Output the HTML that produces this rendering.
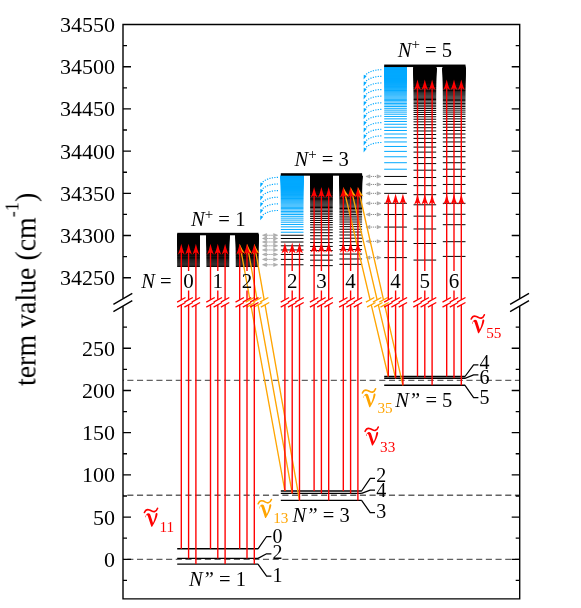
<!DOCTYPE html>
<html><head><meta charset="utf-8"><title>term value diagram</title>
<style>html,body{margin:0;padding:0;background:#fff}svg{display:block}text{font-family:"Liberation Serif",serif}</style>
</head><body>
<svg width="581" height="608" viewBox="0 0 581 608">
<rect width="581" height="608" fill="#fff"/>
<g opacity="0.999">
<path d="M123 559.4H519.7" stroke="#626262" stroke-width="1.35" stroke-dasharray="6.1 3.59" stroke-dashoffset="5.39" fill="none"/>
<path d="M123 495.24H519.7" stroke="#626262" stroke-width="1.35" stroke-dasharray="6.1 3.59" stroke-dashoffset="5.39" fill="none"/>
<path d="M123 380.43H519.7" stroke="#626262" stroke-width="1.35" stroke-dasharray="6.1 3.59" stroke-dashoffset="5.39" fill="none"/>
<path d="M177.2 266.45H199.9M177.2 265.24H199.9M177.2 264.1H199.9M177.2 263.01H199.9M177.2 261.99H199.9M177.2 261.01H199.9M177.2 260.09H199.9M177.2 259.21H199.9M177.2 258.37H199.9M177.2 257.58H199.9M177.2 256.82H199.9M177.2 256.1H199.9M177.2 255.41H199.9M177.2 254.75H199.9M177.2 254.12H199.9M177.2 253.52H199.9M177.2 252.94H199.9M177.2 252.39H199.9M177.2 251.86H199.9M177.2 251.35H199.9M177.2 250.87H199.9M177.2 250.4H199.9M177.2 249.95H199.9M177.2 249.52H199.9M177.2 249.11H199.9M177.2 248.71H199.9M177.2 248.33H199.9M177.2 247.96H199.9M177.2 247.61H199.9M177.2 247.26H199.9M177.2 246.93H199.9M177.2 246.62H199.9M177.2 246.31H199.9M177.2 246.01H199.9M177.2 245.73H199.9M177.2 245.45H199.9M177.2 245.18H199.9M177.2 244.93H199.9M177.2 244.68H199.9M177.2 244.43H199.9M177.2 244.2H199.9M177.2 243.97H199.9M177.2 243.75H199.9M177.2 243.54H199.9M177.2 243.34H199.9M177.2 243.14H199.9M177.2 242.94H199.9M177.2 242.75H199.9M177.2 242.57H199.9M177.2 242.4H199.9M177.2 242.22H199.9M177.2 242.06H199.9M177.2 241.89H199.9M177.2 241.74H199.9M177.2 241.58H199.9M177.2 241.43H199.9M177.2 241.29H199.9M177.2 241.15H199.9M177.2 241.01H199.9M177.2 240.88H199.9M177.2 240.75H199.9M177.2 240.62H199.9M177.2 240.5H199.9M177.2 240.38H199.9M177.2 240.26H199.9M177.2 240.15H199.9M177.2 240.04H199.9M177.2 239.93H199.9M177.2 239.82H199.9M177.2 239.72H199.9M177.2 239.62H199.9M177.2 239.52H199.9M177.2 239.42H199.9M177.2 239.33H199.9M177.2 239.24H199.9M177.2 239.15H199.9M177.2 239.06H199.9M177.2 238.98H199.9M177.2 238.89H199.9M177.2 238.81H199.9M177.2 238.73H199.9M177.2 238.65H199.9M177.2 238.58H199.9M177.2 238.5H199.9M177.2 238.43H199.9M177.2 238.36H199.9M177.2 238.29H199.9M177.2 238.22H199.9M177.2 238.16H199.9M177.2 238.09H199.9M177.2 238.03H199.9M177.2 237.96H199.9M177.2 237.9H199.9M177.2 237.84H199.9M177.2 237.78H199.9M177.2 237.73H199.9M177.2 237.67H199.9M177.2 237.61H199.9M177.2 237.56H199.9M177.2 237.51H199.9M177.2 237.45H199.9M177.2 237.4H199.9M177.2 237.35H199.9M177.2 237.3H199.9M177.2 237.25H199.9M177.2 237.21H199.9M177.2 237.16H199.9M177.2 237.12H199.9M177.2 237.07H199.9M177.2 237.03H199.9M177.2 236.98H199.9M177.2 236.94H199.9M177.2 236.9H199.9M177.2 236.86H199.9M177.2 236.82H199.9M177.2 236.78H199.9M177.2 236.74H199.9M177.2 236.7H199.9M177.2 236.67H199.9M177.2 236.63H199.9M177.2 236.59H199.9M177.2 236.56H199.9M177.2 236.52H199.9M177.2 236.49H199.9M177.2 236.45H199.9M177.2 236.42H199.9M177.2 236.39H199.9M177.2 236.36H199.9M177.2 236.33H199.9M177.2 236.29H199.9M177.2 236.26H199.9M177.2 236.23H199.9M177.2 236.2H199.9M177.2 236.18H199.9M177.2 236.15H199.9M177.2 236.12H199.9M177.2 236.09H199.9M177.2 236.06H199.9M177.2 236.04H199.9M177.2 236.01H199.9M177.2 235.98H199.9M177.2 235.96H199.9M177.2 235.93H199.9M177.2 235.91H199.9M177.2 235.88H199.9M177.2 235.86H199.9M177.2 235.84H199.9M177.2 235.81H199.9M177.2 235.79H199.9M177.2 235.77H199.9M177.2 235.75H199.9M177.2 235.72H199.9M177.2 235.7H199.9M177.2 235.68H199.9M177.2 235.66H199.9M177.2 235.64H199.9M177.2 235.62H199.9M177.2 235.6H199.9M177.2 235.58H199.9M177.2 235.56H199.9M177.2 235.54H199.9M177.2 235.52H199.9M177.2 235.5H199.9M177.2 235.48H199.9M177.2 235.47H199.9M177.2 235.45H199.9M177.2 235.43H199.9M177.2 235.41H199.9M177.2 235.39H199.9M177.2 235.38H199.9M177.2 235.36H199.9M177.2 235.34H199.9M177.2 235.33H199.9M177.2 235.31H199.9M177.2 235.3H199.9M177.2 235.28H199.9M177.2 235.26H199.9M177.2 235.25H199.9" stroke="#000" stroke-width="1" fill="none"/>
<rect x="177.2" y="252" width="22.7" height="14.75" fill="#000" opacity="0.4"/>
<rect x="177.2" y="234.05" width="22.7" height="2.05" fill="#000"/>
<path d="M206.5 266.45H229.2M206.5 265.24H229.2M206.5 264.1H229.2M206.5 263.01H229.2M206.5 261.99H229.2M206.5 261.01H229.2M206.5 260.09H229.2M206.5 259.21H229.2M206.5 258.37H229.2M206.5 257.58H229.2M206.5 256.82H229.2M206.5 256.1H229.2M206.5 255.41H229.2M206.5 254.75H229.2M206.5 254.12H229.2M206.5 253.52H229.2M206.5 252.94H229.2M206.5 252.39H229.2M206.5 251.86H229.2M206.5 251.35H229.2M206.5 250.87H229.2M206.5 250.4H229.2M206.5 249.95H229.2M206.5 249.52H229.2M206.5 249.11H229.2M206.5 248.71H229.2M206.5 248.33H229.2M206.5 247.96H229.2M206.5 247.61H229.2M206.5 247.26H229.2M206.5 246.93H229.2M206.5 246.62H229.2M206.5 246.31H229.2M206.5 246.01H229.2M206.5 245.73H229.2M206.5 245.45H229.2M206.5 245.18H229.2M206.5 244.93H229.2M206.5 244.68H229.2M206.5 244.43H229.2M206.5 244.2H229.2M206.5 243.97H229.2M206.5 243.75H229.2M206.5 243.54H229.2M206.5 243.34H229.2M206.5 243.14H229.2M206.5 242.94H229.2M206.5 242.75H229.2M206.5 242.57H229.2M206.5 242.4H229.2M206.5 242.22H229.2M206.5 242.06H229.2M206.5 241.89H229.2M206.5 241.74H229.2M206.5 241.58H229.2M206.5 241.43H229.2M206.5 241.29H229.2M206.5 241.15H229.2M206.5 241.01H229.2M206.5 240.88H229.2M206.5 240.75H229.2M206.5 240.62H229.2M206.5 240.5H229.2M206.5 240.38H229.2M206.5 240.26H229.2M206.5 240.15H229.2M206.5 240.04H229.2M206.5 239.93H229.2M206.5 239.82H229.2M206.5 239.72H229.2M206.5 239.62H229.2M206.5 239.52H229.2M206.5 239.42H229.2M206.5 239.33H229.2M206.5 239.24H229.2M206.5 239.15H229.2M206.5 239.06H229.2M206.5 238.98H229.2M206.5 238.89H229.2M206.5 238.81H229.2M206.5 238.73H229.2M206.5 238.65H229.2M206.5 238.58H229.2M206.5 238.5H229.2M206.5 238.43H229.2M206.5 238.36H229.2M206.5 238.29H229.2M206.5 238.22H229.2M206.5 238.16H229.2M206.5 238.09H229.2M206.5 238.03H229.2M206.5 237.96H229.2M206.5 237.9H229.2M206.5 237.84H229.2M206.5 237.78H229.2M206.5 237.73H229.2M206.5 237.67H229.2M206.5 237.61H229.2M206.5 237.56H229.2M206.5 237.51H229.2M206.5 237.45H229.2M206.5 237.4H229.2M206.5 237.35H229.2M206.5 237.3H229.2M206.5 237.25H229.2M206.5 237.21H229.2M206.5 237.16H229.2M206.5 237.12H229.2M206.5 237.07H229.2M206.5 237.03H229.2M206.5 236.98H229.2M206.5 236.94H229.2M206.5 236.9H229.2M206.5 236.86H229.2M206.5 236.82H229.2M206.5 236.78H229.2M206.5 236.74H229.2M206.5 236.7H229.2M206.5 236.67H229.2M206.5 236.63H229.2M206.5 236.59H229.2M206.5 236.56H229.2M206.5 236.52H229.2M206.5 236.49H229.2M206.5 236.45H229.2M206.5 236.42H229.2M206.5 236.39H229.2M206.5 236.36H229.2M206.5 236.33H229.2M206.5 236.29H229.2M206.5 236.26H229.2M206.5 236.23H229.2M206.5 236.2H229.2M206.5 236.18H229.2M206.5 236.15H229.2M206.5 236.12H229.2M206.5 236.09H229.2M206.5 236.06H229.2M206.5 236.04H229.2M206.5 236.01H229.2M206.5 235.98H229.2M206.5 235.96H229.2M206.5 235.93H229.2M206.5 235.91H229.2M206.5 235.88H229.2M206.5 235.86H229.2M206.5 235.84H229.2M206.5 235.81H229.2M206.5 235.79H229.2M206.5 235.77H229.2M206.5 235.75H229.2M206.5 235.72H229.2M206.5 235.7H229.2M206.5 235.68H229.2M206.5 235.66H229.2M206.5 235.64H229.2M206.5 235.62H229.2M206.5 235.6H229.2M206.5 235.58H229.2M206.5 235.56H229.2M206.5 235.54H229.2M206.5 235.52H229.2M206.5 235.5H229.2M206.5 235.48H229.2M206.5 235.47H229.2M206.5 235.45H229.2M206.5 235.43H229.2M206.5 235.41H229.2M206.5 235.39H229.2M206.5 235.38H229.2M206.5 235.36H229.2M206.5 235.34H229.2M206.5 235.33H229.2M206.5 235.31H229.2M206.5 235.3H229.2M206.5 235.28H229.2M206.5 235.26H229.2M206.5 235.25H229.2" stroke="#000" stroke-width="1" fill="none"/>
<rect x="206.5" y="252" width="22.7" height="14.75" fill="#000" opacity="0.4"/>
<rect x="206.5" y="234.05" width="22.7" height="2.05" fill="#000"/>
<path d="M235.8 266.45H258.5M235.8 265.24H258.5M235.8 264.1H258.5M235.8 263.01H258.5M235.8 261.99H258.5M235.8 261.01H258.5M235.8 260.09H258.5M235.8 259.21H258.5M235.8 258.37H258.5M235.8 257.58H258.5M235.8 256.82H258.5M235.8 256.1H258.5M235.8 255.41H258.5M235.8 254.75H258.5M235.8 254.12H258.5M235.8 253.52H258.5M235.8 252.94H258.5M235.8 252.39H258.5M235.8 251.86H258.5M235.8 251.35H258.5M235.8 250.87H258.5M235.8 250.4H258.5M235.8 249.95H258.5M235.8 249.52H258.5M235.8 249.11H258.5M235.8 248.71H258.5M235.8 248.33H258.5M235.8 247.96H258.5M235.8 247.61H258.5M235.8 247.26H258.5M235.8 246.93H258.5M235.8 246.62H258.5M235.8 246.31H258.5M235.8 246.01H258.5M235.8 245.73H258.5M235.8 245.45H258.5M235.8 245.18H258.5M235.8 244.93H258.5M235.8 244.68H258.5M235.8 244.43H258.5M235.8 244.2H258.5M235.8 243.97H258.5M235.8 243.75H258.5M235.8 243.54H258.5M235.8 243.34H258.5M235.8 243.14H258.5M235.8 242.94H258.5M235.8 242.75H258.5M235.8 242.57H258.5M235.8 242.4H258.5M235.8 242.22H258.5M235.8 242.06H258.5M235.8 241.89H258.5M235.8 241.74H258.5M235.8 241.58H258.5M235.8 241.43H258.5M235.8 241.29H258.5M235.8 241.15H258.5M235.8 241.01H258.5M235.8 240.88H258.5M235.8 240.75H258.5M235.8 240.62H258.5M235.8 240.5H258.5M235.8 240.38H258.5M235.8 240.26H258.5M235.8 240.15H258.5M235.8 240.04H258.5M235.8 239.93H258.5M235.8 239.82H258.5M235.8 239.72H258.5M235.8 239.62H258.5M235.8 239.52H258.5M235.8 239.42H258.5M235.8 239.33H258.5M235.8 239.24H258.5M235.8 239.15H258.5M235.8 239.06H258.5M235.8 238.98H258.5M235.8 238.89H258.5M235.8 238.81H258.5M235.8 238.73H258.5M235.8 238.65H258.5M235.8 238.58H258.5M235.8 238.5H258.5M235.8 238.43H258.5M235.8 238.36H258.5M235.8 238.29H258.5M235.8 238.22H258.5M235.8 238.16H258.5M235.8 238.09H258.5M235.8 238.03H258.5M235.8 237.96H258.5M235.8 237.9H258.5M235.8 237.84H258.5M235.8 237.78H258.5M235.8 237.73H258.5M235.8 237.67H258.5M235.8 237.61H258.5M235.8 237.56H258.5M235.8 237.51H258.5M235.8 237.45H258.5M235.8 237.4H258.5M235.8 237.35H258.5M235.8 237.3H258.5M235.8 237.25H258.5M235.8 237.21H258.5M235.8 237.16H258.5M235.8 237.12H258.5M235.8 237.07H258.5M235.8 237.03H258.5M235.8 236.98H258.5M235.8 236.94H258.5M235.8 236.9H258.5M235.8 236.86H258.5M235.8 236.82H258.5M235.8 236.78H258.5M235.8 236.74H258.5M235.8 236.7H258.5M235.8 236.67H258.5M235.8 236.63H258.5M235.8 236.59H258.5M235.8 236.56H258.5M235.8 236.52H258.5M235.8 236.49H258.5M235.8 236.45H258.5M235.8 236.42H258.5M235.8 236.39H258.5M235.8 236.36H258.5M235.8 236.33H258.5M235.8 236.29H258.5M235.8 236.26H258.5M235.8 236.23H258.5M235.8 236.2H258.5M235.8 236.18H258.5M235.8 236.15H258.5M235.8 236.12H258.5M235.8 236.09H258.5M235.8 236.06H258.5M235.8 236.04H258.5M235.8 236.01H258.5M235.8 235.98H258.5M235.8 235.96H258.5M235.8 235.93H258.5M235.8 235.91H258.5M235.8 235.88H258.5M235.8 235.86H258.5M235.8 235.84H258.5M235.8 235.81H258.5M235.8 235.79H258.5M235.8 235.77H258.5M235.8 235.75H258.5M235.8 235.72H258.5M235.8 235.7H258.5M235.8 235.68H258.5M235.8 235.66H258.5M235.8 235.64H258.5M235.8 235.62H258.5M235.8 235.6H258.5M235.8 235.58H258.5M235.8 235.56H258.5M235.8 235.54H258.5M235.8 235.52H258.5M235.8 235.5H258.5M235.8 235.48H258.5M235.8 235.47H258.5M235.8 235.45H258.5M235.8 235.43H258.5M235.8 235.41H258.5M235.8 235.39H258.5M235.8 235.38H258.5M235.8 235.36H258.5M235.8 235.34H258.5M235.8 235.33H258.5M235.8 235.31H258.5M235.8 235.3H258.5M235.8 235.28H258.5M235.8 235.26H258.5M235.8 235.25H258.5" stroke="#000" stroke-width="1" fill="none"/>
<rect x="235.8" y="252" width="22.7" height="14.75" fill="#000" opacity="0.4"/>
<rect x="235.8" y="234.05" width="22.7" height="2.05" fill="#000"/>
<path d="M280.8 264.78H303.5M280.8 259.39H303.5M280.8 254.46H303.5M280.8 249.95H303.5M280.8 245.81H303.5M280.8 242H303.5M280.8 238.49H303.5M280.8 235.25H303.5" stroke="#000" stroke-width="1.0" fill="none"/>
<path d="M280.8 232.24H303.5M280.8 229.46H303.5M280.8 226.87H303.5M280.8 224.45H303.5M280.8 222.2H303.5M280.8 220.1H303.5M280.8 218.14H303.5M280.8 216.3H303.5M280.8 214.57H303.5M280.8 212.95H303.5M280.8 211.42H303.5M280.8 209.98H303.5M280.8 208.63H303.5M280.8 207.35H303.5M280.8 206.14H303.5M280.8 205H303.5M280.8 203.91H303.5M280.8 202.89H303.5M280.8 201.91H303.5M280.8 200.99H303.5M280.8 200.11H303.5M280.8 199.27H303.5M280.8 198.48H303.5M280.8 197.72H303.5M280.8 197H303.5M280.8 196.31H303.5M280.8 195.65H303.5M280.8 195.02H303.5M280.8 194.42H303.5M280.8 193.84H303.5M280.8 193.29H303.5M280.8 192.76H303.5M280.8 192.25H303.5M280.8 191.77H303.5M280.8 191.3H303.5M280.8 190.85H303.5M280.8 190.42H303.5M280.8 190.01H303.5M280.8 189.61H303.5M280.8 189.23H303.5M280.8 188.86H303.5M280.8 188.51H303.5M280.8 188.16H303.5M280.8 187.83H303.5M280.8 187.52H303.5M280.8 187.21H303.5M280.8 186.91H303.5M280.8 186.63H303.5M280.8 186.35H303.5M280.8 186.08H303.5M280.8 185.83H303.5M280.8 185.58H303.5M280.8 185.33H303.5M280.8 185.1H303.5M280.8 184.87H303.5M280.8 184.65H303.5M280.8 184.44H303.5M280.8 184.24H303.5M280.8 184.04H303.5M280.8 183.84H303.5M280.8 183.66H303.5M280.8 183.47H303.5M280.8 183.3H303.5M280.8 183.12H303.5M280.8 182.96H303.5M280.8 182.79H303.5M280.8 182.64H303.5M280.8 182.48H303.5M280.8 182.33H303.5M280.8 182.19H303.5M280.8 182.05H303.5M280.8 181.91H303.5M280.8 181.78H303.5M280.8 181.65H303.5M280.8 181.52H303.5M280.8 181.4H303.5M280.8 181.28H303.5M280.8 181.16H303.5M280.8 181.05H303.5M280.8 180.94H303.5M280.8 180.83H303.5M280.8 180.72H303.5M280.8 180.62H303.5M280.8 180.52H303.5M280.8 180.42H303.5M280.8 180.32H303.5M280.8 180.23H303.5M280.8 180.14H303.5M280.8 180.05H303.5M280.8 179.96H303.5M280.8 179.88H303.5M280.8 179.79H303.5M280.8 179.71H303.5M280.8 179.63H303.5M280.8 179.55H303.5M280.8 179.48H303.5M280.8 179.4H303.5M280.8 179.33H303.5M280.8 179.26H303.5M280.8 179.19H303.5M280.8 179.12H303.5M280.8 179.06H303.5M280.8 178.99H303.5M280.8 178.93H303.5M280.8 178.86H303.5M280.8 178.8H303.5M280.8 178.74H303.5M280.8 178.68H303.5M280.8 178.63H303.5M280.8 178.57H303.5M280.8 178.51H303.5M280.8 178.46H303.5M280.8 178.41H303.5M280.8 178.35H303.5M280.8 178.3H303.5M280.8 178.25H303.5M280.8 178.2H303.5M280.8 178.15H303.5M280.8 178.11H303.5M280.8 178.06H303.5M280.8 178.02H303.5M280.8 177.97H303.5M280.8 177.93H303.5M280.8 177.88H303.5M280.8 177.84H303.5M280.8 177.8H303.5M280.8 177.76H303.5M280.8 177.72H303.5M280.8 177.68H303.5M280.8 177.64H303.5M280.8 177.6H303.5M280.8 177.57H303.5M280.8 177.53H303.5M280.8 177.49H303.5M280.8 177.46H303.5M280.8 177.42H303.5M280.8 177.39H303.5M280.8 177.35H303.5M280.8 177.32H303.5M280.8 177.29H303.5M280.8 177.26H303.5M280.8 177.23H303.5M280.8 177.19H303.5M280.8 177.16H303.5M280.8 177.13H303.5M280.8 177.1H303.5M280.8 177.08H303.5M280.8 177.05H303.5M280.8 177.02H303.5M280.8 176.99H303.5M280.8 176.96H303.5M280.8 176.94H303.5M280.8 176.91H303.5M280.8 176.88H303.5M280.8 176.86H303.5M280.8 176.83H303.5M280.8 176.81H303.5M280.8 176.78H303.5M280.8 176.76H303.5M280.8 176.74H303.5M280.8 176.71H303.5M280.8 176.69H303.5M280.8 176.67H303.5M280.8 176.65H303.5M280.8 176.62H303.5M280.8 176.6H303.5M280.8 176.58H303.5M280.8 176.56H303.5M280.8 176.54H303.5M280.8 176.52H303.5M280.8 176.5H303.5M280.8 176.48H303.5M280.8 176.46H303.5M280.8 176.44H303.5M280.8 176.42H303.5M280.8 176.4H303.5M280.8 176.38H303.5M280.8 176.37H303.5M280.8 176.35H303.5M280.8 176.33H303.5M280.8 176.31H303.5M280.8 176.29H303.5M280.8 176.28H303.5M280.8 176.26H303.5M280.8 176.24H303.5M280.8 176.23H303.5M280.8 176.21H303.5M280.8 176.2H303.5M280.8 176.18H303.5M280.8 176.16H303.5M280.8 176.15H303.5" stroke="#00a9ff" stroke-width="1.0" fill="none"/>
<rect x="280.8" y="174.45" width="22.7" height="2.05" fill="#00a9ff"/>
<path d="M310.1 265.63H332.8M310.1 260.16H332.8M310.1 255.17H332.8M310.1 250.6H332.8M310.1 246.41H332.8M310.1 242.56H332.8M310.1 239H332.8M310.1 235.72H332.8M310.1 232.68H332.8M310.1 229.86H332.8M310.1 227.24H332.8M310.1 224.81H332.8M310.1 222.53H332.8M310.1 220.41H332.8M310.1 218.42H332.8M310.1 216.57H332.8M310.1 214.82H332.8M310.1 213.18H332.8M310.1 211.64H332.8M310.1 210.19H332.8M310.1 208.83H332.8M310.1 207.53H332.8M310.1 206.32H332.8M310.1 205.16H332.8M310.1 204.07H332.8M310.1 203.04H332.8M310.1 202.05H332.8M310.1 201.12H332.8M310.1 200.24H332.8M310.1 199.4H332.8M310.1 198.59H332.8M310.1 197.83H332.8M310.1 197.1H332.8M310.1 196.41H332.8M310.1 195.74H332.8M310.1 195.11H332.8M310.1 194.5H332.8M310.1 193.92H332.8M310.1 193.37H332.8M310.1 192.84H332.8M310.1 192.33H332.8M310.1 191.84H332.8M310.1 191.37H332.8M310.1 190.92H332.8M310.1 190.49H332.8M310.1 190.07H332.8M310.1 189.67H332.8M310.1 189.29H332.8M310.1 188.92H332.8M310.1 188.56H332.8M310.1 188.21H332.8M310.1 187.88H332.8M310.1 187.56H332.8M310.1 187.26H332.8M310.1 186.96H332.8M310.1 186.67H332.8M310.1 186.39H332.8M310.1 186.12H332.8M310.1 185.86H332.8M310.1 185.61H332.8M310.1 185.37H332.8M310.1 185.14H332.8M310.1 184.91H332.8M310.1 184.69H332.8M310.1 184.47H332.8M310.1 184.27H332.8M310.1 184.07H332.8M310.1 183.87H332.8M310.1 183.68H332.8M310.1 183.5H332.8M310.1 183.32H332.8M310.1 183.15H332.8M310.1 182.98H332.8M310.1 182.82H332.8M310.1 182.66H332.8M310.1 182.51H332.8M310.1 182.36H332.8M310.1 182.21H332.8M310.1 182.07H332.8M310.1 181.93H332.8M310.1 181.8H332.8M310.1 181.67H332.8M310.1 181.54H332.8M310.1 181.42H332.8M310.1 181.3H332.8M310.1 181.18H332.8M310.1 181.06H332.8M310.1 180.95H332.8M310.1 180.84H332.8M310.1 180.74H332.8M310.1 180.63H332.8M310.1 180.53H332.8M310.1 180.43H332.8M310.1 180.34H332.8M310.1 180.24H332.8M310.1 180.15H332.8M310.1 180.06H332.8M310.1 179.97H332.8M310.1 179.89H332.8M310.1 179.81H332.8M310.1 179.72H332.8M310.1 179.64H332.8M310.1 179.57H332.8M310.1 179.49H332.8M310.1 179.41H332.8M310.1 179.34H332.8M310.1 179.27H332.8M310.1 179.2H332.8M310.1 179.13H332.8M310.1 179.07H332.8M310.1 179H332.8M310.1 178.94H332.8M310.1 178.87H332.8M310.1 178.81H332.8M310.1 178.75H332.8M310.1 178.69H332.8M310.1 178.63H332.8M310.1 178.58H332.8M310.1 178.52H332.8M310.1 178.47H332.8M310.1 178.41H332.8M310.1 178.36H332.8M310.1 178.31H332.8M310.1 178.26H332.8M310.1 178.21H332.8M310.1 178.16H332.8M310.1 178.11H332.8M310.1 178.07H332.8M310.1 178.02H332.8M310.1 177.98H332.8M310.1 177.93H332.8M310.1 177.89H332.8M310.1 177.85H332.8M310.1 177.81H332.8M310.1 177.76H332.8M310.1 177.72H332.8M310.1 177.68H332.8M310.1 177.65H332.8M310.1 177.61H332.8M310.1 177.57H332.8M310.1 177.53H332.8M310.1 177.5H332.8M310.1 177.46H332.8M310.1 177.43H332.8M310.1 177.39H332.8M310.1 177.36H332.8M310.1 177.33H332.8M310.1 177.29H332.8M310.1 177.26H332.8M310.1 177.23H332.8M310.1 177.2H332.8M310.1 177.17H332.8M310.1 177.14H332.8M310.1 177.11H332.8M310.1 177.08H332.8M310.1 177.05H332.8M310.1 177.02H332.8M310.1 177H332.8M310.1 176.97H332.8M310.1 176.94H332.8M310.1 176.91H332.8M310.1 176.89H332.8M310.1 176.86H332.8M310.1 176.84H332.8M310.1 176.81H332.8M310.1 176.79H332.8M310.1 176.76H332.8M310.1 176.74H332.8M310.1 176.72H332.8M310.1 176.69H332.8M310.1 176.67H332.8M310.1 176.65H332.8M310.1 176.63H332.8M310.1 176.61H332.8M310.1 176.58H332.8M310.1 176.56H332.8M310.1 176.54H332.8M310.1 176.52H332.8M310.1 176.5H332.8M310.1 176.48H332.8M310.1 176.46H332.8M310.1 176.44H332.8M310.1 176.42H332.8M310.1 176.4H332.8M310.1 176.39H332.8M310.1 176.37H332.8M310.1 176.35H332.8M310.1 176.33H332.8M310.1 176.31H332.8M310.1 176.3H332.8M310.1 176.28H332.8M310.1 176.26H332.8M310.1 176.25H332.8M310.1 176.23H332.8M310.1 176.21H332.8M310.1 176.2H332.8M310.1 176.18H332.8M310.1 176.17H332.8M310.1 176.15H332.8" stroke="#000" stroke-width="1.0" fill="none"/>
<rect x="310.1" y="174.45" width="22.7" height="2.05" fill="#000"/>
<path d="M339.4 264.33H362.1M339.4 258.98H362.1M339.4 254.09H362.1M339.4 249.61H362.1M339.4 245.5H362.1M339.4 241.71H362.1M339.4 238.22H362.1M339.4 235H362.1M339.4 232.01H362.1M339.4 229.24H362.1M339.4 226.67H362.1M339.4 224.27H362.1M339.4 222.03H362.1M339.4 219.94H362.1M339.4 217.99H362.1M339.4 216.15H362.1M339.4 214.44H362.1M339.4 212.82H362.1M339.4 211.3H362.1M339.4 209.87H362.1M339.4 208.52H362.1M339.4 207.25H362.1M339.4 206.04H362.1M339.4 204.91H362.1M339.4 203.83H362.1M339.4 202.81H362.1M339.4 201.84H362.1M339.4 200.92H362.1M339.4 200.04H362.1M339.4 199.21H362.1M339.4 198.41H362.1M339.4 197.66H362.1M339.4 196.94H362.1M339.4 196.25H362.1M339.4 195.6H362.1M339.4 194.97H362.1M339.4 194.37H362.1M339.4 193.79H362.1M339.4 193.24H362.1M339.4 192.72H362.1M339.4 192.21H362.1M339.4 191.73H362.1M339.4 191.26H362.1M339.4 190.82H362.1M339.4 190.39H362.1M339.4 189.98H362.1M339.4 189.58H362.1M339.4 189.2H362.1M339.4 188.83H362.1M339.4 188.48H362.1M339.4 188.14H362.1M339.4 187.81H362.1M339.4 187.49H362.1M339.4 187.19H362.1M339.4 186.89H362.1M339.4 186.61H362.1M339.4 186.33H362.1M339.4 186.06H362.1M339.4 185.81H362.1M339.4 185.56H362.1M339.4 185.32H362.1M339.4 185.08H362.1M339.4 184.86H362.1M339.4 184.64H362.1M339.4 184.43H362.1M339.4 184.22H362.1M339.4 184.02H362.1M339.4 183.83H362.1M339.4 183.64H362.1M339.4 183.46H362.1M339.4 183.28H362.1M339.4 183.11H362.1M339.4 182.94H362.1M339.4 182.78H362.1M339.4 182.62H362.1M339.4 182.47H362.1M339.4 182.32H362.1M339.4 182.18H362.1M339.4 182.04H362.1M339.4 181.9H362.1M339.4 181.77H362.1M339.4 181.64H362.1M339.4 181.51H362.1M339.4 181.39H362.1M339.4 181.27H362.1M339.4 181.15H362.1M339.4 181.04H362.1M339.4 180.93H362.1M339.4 180.82H362.1M339.4 180.71H362.1M339.4 180.61H362.1M339.4 180.51H362.1M339.4 180.41H362.1M339.4 180.32H362.1M339.4 180.22H362.1M339.4 180.13H362.1M339.4 180.04H362.1M339.4 179.95H362.1M339.4 179.87H362.1M339.4 179.79H362.1M339.4 179.71H362.1M339.4 179.63H362.1M339.4 179.55H362.1M339.4 179.47H362.1M339.4 179.4H362.1M339.4 179.33H362.1M339.4 179.25H362.1M339.4 179.18H362.1M339.4 179.12H362.1M339.4 179.05H362.1M339.4 178.98H362.1M339.4 178.92H362.1M339.4 178.86H362.1M339.4 178.8H362.1M339.4 178.74H362.1M339.4 178.68H362.1M339.4 178.62H362.1M339.4 178.56H362.1M339.4 178.51H362.1M339.4 178.45H362.1M339.4 178.4H362.1M339.4 178.35H362.1M339.4 178.3H362.1M339.4 178.25H362.1M339.4 178.2H362.1M339.4 178.15H362.1M339.4 178.1H362.1M339.4 178.06H362.1M339.4 178.01H362.1M339.4 177.97H362.1M339.4 177.92H362.1M339.4 177.88H362.1M339.4 177.84H362.1M339.4 177.8H362.1M339.4 177.76H362.1M339.4 177.72H362.1M339.4 177.68H362.1M339.4 177.64H362.1M339.4 177.6H362.1M339.4 177.56H362.1M339.4 177.53H362.1M339.4 177.49H362.1M339.4 177.45H362.1M339.4 177.42H362.1M339.4 177.39H362.1M339.4 177.35H362.1M339.4 177.32H362.1M339.4 177.29H362.1M339.4 177.25H362.1M339.4 177.22H362.1M339.4 177.19H362.1M339.4 177.16H362.1M339.4 177.13H362.1M339.4 177.1H362.1M339.4 177.07H362.1M339.4 177.04H362.1M339.4 177.02H362.1M339.4 176.99H362.1M339.4 176.96H362.1M339.4 176.93H362.1M339.4 176.91H362.1M339.4 176.88H362.1M339.4 176.86H362.1M339.4 176.83H362.1M339.4 176.81H362.1M339.4 176.78H362.1M339.4 176.76H362.1M339.4 176.74H362.1M339.4 176.71H362.1M339.4 176.69H362.1M339.4 176.67H362.1M339.4 176.64H362.1M339.4 176.62H362.1M339.4 176.6H362.1M339.4 176.58H362.1M339.4 176.56H362.1M339.4 176.54H362.1M339.4 176.52H362.1M339.4 176.5H362.1M339.4 176.48H362.1M339.4 176.46H362.1M339.4 176.44H362.1M339.4 176.42H362.1M339.4 176.4H362.1M339.4 176.38H362.1M339.4 176.36H362.1M339.4 176.35H362.1M339.4 176.33H362.1M339.4 176.31H362.1M339.4 176.29H362.1M339.4 176.28H362.1M339.4 176.26H362.1M339.4 176.24H362.1M339.4 176.23H362.1M339.4 176.21H362.1M339.4 176.19H362.1M339.4 176.18H362.1M339.4 176.16H362.1M339.4 176.15H362.1" stroke="#000" stroke-width="1.0" fill="none"/>
<rect x="339.4" y="174.45" width="22.7" height="2.05" fill="#000"/>
<path d="M384.2 257.62H406.9M384.2 241.35H406.9M384.2 227.08H406.9M384.2 214.48H406.9M384.2 203.31H406.9M384.2 193.35H406.9M384.2 184.45H406.9M384.2 176.45H406.9" stroke="#000" stroke-width="1.0" fill="none"/>
<path d="M384.2 169.23H406.9M384.2 162.71H406.9M384.2 156.78H406.9M384.2 151.39H406.9M384.2 146.46H406.9M384.2 141.95H406.9M384.2 137.81H406.9M384.2 134H406.9M384.2 130.49H406.9M384.2 127.25H406.9M384.2 124.24H406.9M384.2 121.46H406.9M384.2 118.87H406.9M384.2 116.45H406.9M384.2 114.2H406.9M384.2 112.1H406.9M384.2 110.14H406.9M384.2 108.3H406.9M384.2 106.57H406.9M384.2 104.95H406.9M384.2 103.42H406.9M384.2 101.98H406.9M384.2 100.63H406.9M384.2 99.35H406.9M384.2 98.14H406.9M384.2 97H406.9M384.2 95.91H406.9M384.2 94.89H406.9M384.2 93.91H406.9M384.2 92.99H406.9M384.2 92.11H406.9M384.2 91.27H406.9M384.2 90.48H406.9M384.2 89.72H406.9M384.2 89H406.9M384.2 88.31H406.9M384.2 87.65H406.9M384.2 87.02H406.9M384.2 86.42H406.9M384.2 85.84H406.9M384.2 85.29H406.9M384.2 84.76H406.9M384.2 84.25H406.9M384.2 83.77H406.9M384.2 83.3H406.9M384.2 82.85H406.9M384.2 82.42H406.9M384.2 82.01H406.9M384.2 81.61H406.9M384.2 81.23H406.9M384.2 80.86H406.9M384.2 80.51H406.9M384.2 80.16H406.9M384.2 79.83H406.9M384.2 79.52H406.9M384.2 79.21H406.9M384.2 78.91H406.9M384.2 78.63H406.9M384.2 78.35H406.9M384.2 78.08H406.9M384.2 77.83H406.9M384.2 77.58H406.9M384.2 77.33H406.9M384.2 77.1H406.9M384.2 76.87H406.9M384.2 76.65H406.9M384.2 76.44H406.9M384.2 76.24H406.9M384.2 76.04H406.9M384.2 75.84H406.9M384.2 75.66H406.9M384.2 75.47H406.9M384.2 75.3H406.9M384.2 75.12H406.9M384.2 74.96H406.9M384.2 74.79H406.9M384.2 74.64H406.9M384.2 74.48H406.9M384.2 74.33H406.9M384.2 74.19H406.9M384.2 74.05H406.9M384.2 73.91H406.9M384.2 73.78H406.9M384.2 73.65H406.9M384.2 73.52H406.9M384.2 73.4H406.9M384.2 73.28H406.9M384.2 73.16H406.9M384.2 73.05H406.9M384.2 72.94H406.9M384.2 72.83H406.9M384.2 72.72H406.9M384.2 72.62H406.9M384.2 72.52H406.9M384.2 72.42H406.9M384.2 72.32H406.9M384.2 72.23H406.9M384.2 72.14H406.9M384.2 72.05H406.9M384.2 71.96H406.9M384.2 71.88H406.9M384.2 71.79H406.9M384.2 71.71H406.9M384.2 71.63H406.9M384.2 71.55H406.9M384.2 71.48H406.9M384.2 71.4H406.9M384.2 71.33H406.9M384.2 71.26H406.9M384.2 71.19H406.9M384.2 71.12H406.9M384.2 71.06H406.9M384.2 70.99H406.9M384.2 70.93H406.9M384.2 70.86H406.9M384.2 70.8H406.9M384.2 70.74H406.9M384.2 70.68H406.9M384.2 70.63H406.9M384.2 70.57H406.9M384.2 70.51H406.9M384.2 70.46H406.9M384.2 70.41H406.9M384.2 70.35H406.9M384.2 70.3H406.9M384.2 70.25H406.9M384.2 70.2H406.9M384.2 70.15H406.9M384.2 70.11H406.9M384.2 70.06H406.9M384.2 70.02H406.9M384.2 69.97H406.9M384.2 69.93H406.9M384.2 69.88H406.9M384.2 69.84H406.9M384.2 69.8H406.9M384.2 69.76H406.9M384.2 69.72H406.9M384.2 69.68H406.9M384.2 69.64H406.9M384.2 69.6H406.9M384.2 69.57H406.9M384.2 69.53H406.9M384.2 69.49H406.9M384.2 69.46H406.9M384.2 69.42H406.9M384.2 69.39H406.9M384.2 69.35H406.9M384.2 69.32H406.9M384.2 69.29H406.9M384.2 69.26H406.9M384.2 69.23H406.9M384.2 69.19H406.9M384.2 69.16H406.9M384.2 69.13H406.9M384.2 69.1H406.9M384.2 69.08H406.9M384.2 69.05H406.9M384.2 69.02H406.9M384.2 68.99H406.9M384.2 68.96H406.9M384.2 68.94H406.9M384.2 68.91H406.9M384.2 68.88H406.9M384.2 68.86H406.9M384.2 68.83H406.9M384.2 68.81H406.9M384.2 68.78H406.9M384.2 68.76H406.9M384.2 68.74H406.9M384.2 68.71H406.9M384.2 68.69H406.9M384.2 68.67H406.9M384.2 68.65H406.9M384.2 68.62H406.9M384.2 68.6H406.9M384.2 68.58H406.9M384.2 68.56H406.9M384.2 68.54H406.9M384.2 68.52H406.9M384.2 68.5H406.9M384.2 68.48H406.9M384.2 68.46H406.9M384.2 68.44H406.9M384.2 68.42H406.9M384.2 68.4H406.9M384.2 68.38H406.9M384.2 68.37H406.9M384.2 68.35H406.9M384.2 68.33H406.9M384.2 68.31H406.9M384.2 68.29H406.9M384.2 68.28H406.9M384.2 68.26H406.9M384.2 68.24H406.9M384.2 68.23H406.9M384.2 68.21H406.9M384.2 68.2H406.9M384.2 68.18H406.9M384.2 68.16H406.9M384.2 68.15H406.9" stroke="#00a9ff" stroke-width="1.0" fill="none"/>
<rect x="384.2" y="65.8" width="22.7" height="2.05" fill="#00a9ff"/>
<path d="M413.5 260.08H436.2M413.5 243.5H436.2M413.5 228.97H436.2M413.5 216.15H436.2M413.5 204.79H436.2M413.5 194.68H436.2M413.5 185.64H436.2M413.5 177.52H436.2M413.5 170.2H436.2M413.5 163.58H436.2M413.5 157.58H436.2M413.5 152.11H436.2M413.5 147.12H436.2M413.5 142.56H436.2M413.5 138.37H436.2M413.5 134.52H436.2M413.5 130.97H436.2M413.5 127.69H436.2M413.5 124.65H436.2M413.5 121.83H436.2M413.5 119.22H436.2M413.5 116.78H436.2M413.5 114.51H436.2M413.5 112.39H436.2M413.5 110.41H436.2M413.5 108.55H436.2M413.5 106.8H436.2M413.5 105.17H436.2M413.5 103.63H436.2M413.5 102.18H436.2M413.5 100.81H436.2M413.5 99.52H436.2M413.5 98.3H436.2M413.5 97.15H436.2M413.5 96.06H436.2M413.5 95.03H436.2M413.5 94.05H436.2M413.5 93.11H436.2M413.5 92.23H436.2M413.5 91.39H436.2M413.5 90.59H436.2M413.5 89.82H436.2M413.5 89.09H436.2M413.5 88.4H436.2M413.5 87.74H436.2M413.5 87.1H436.2M413.5 86.5H436.2M413.5 85.92H436.2M413.5 85.36H436.2M413.5 84.83H436.2M413.5 84.32H436.2M413.5 83.83H436.2M413.5 83.37H436.2M413.5 82.91H436.2M413.5 82.48H436.2M413.5 82.07H436.2M413.5 81.67H436.2M413.5 81.28H436.2M413.5 80.91H436.2M413.5 80.55H436.2M413.5 80.21H436.2M413.5 79.88H436.2M413.5 79.56H436.2M413.5 79.25H436.2M413.5 78.95H436.2M413.5 78.67H436.2M413.5 78.39H436.2M413.5 78.12H436.2M413.5 77.86H436.2M413.5 77.61H436.2M413.5 77.37H436.2M413.5 77.13H436.2M413.5 76.91H436.2M413.5 76.69H436.2M413.5 76.47H436.2M413.5 76.26H436.2M413.5 76.06H436.2M413.5 75.87H436.2M413.5 75.68H436.2M413.5 75.5H436.2M413.5 75.32H436.2M413.5 75.15H436.2M413.5 74.98H436.2M413.5 74.82H436.2M413.5 74.66H436.2M413.5 74.5H436.2M413.5 74.36H436.2M413.5 74.21H436.2M413.5 74.07H436.2M413.5 73.93H436.2M413.5 73.8H436.2M413.5 73.67H436.2M413.5 73.54H436.2M413.5 73.42H436.2M413.5 73.29H436.2M413.5 73.18H436.2M413.5 73.06H436.2M413.5 72.95H436.2M413.5 72.84H436.2M413.5 72.74H436.2M413.5 72.63H436.2M413.5 72.53H436.2M413.5 72.43H436.2M413.5 72.34H436.2M413.5 72.24H436.2M413.5 72.15H436.2M413.5 72.06H436.2M413.5 71.97H436.2M413.5 71.89H436.2M413.5 71.8H436.2M413.5 71.72H436.2M413.5 71.64H436.2M413.5 71.57H436.2M413.5 71.49H436.2M413.5 71.41H436.2M413.5 71.34H436.2M413.5 71.27H436.2M413.5 71.2H436.2M413.5 71.13H436.2M413.5 71.06H436.2M413.5 71H436.2M413.5 70.93H436.2M413.5 70.87H436.2M413.5 70.81H436.2M413.5 70.75H436.2M413.5 70.69H436.2M413.5 70.63H436.2M413.5 70.58H436.2M413.5 70.52H436.2M413.5 70.47H436.2M413.5 70.41H436.2M413.5 70.36H436.2M413.5 70.31H436.2M413.5 70.26H436.2M413.5 70.21H436.2M413.5 70.16H436.2M413.5 70.11H436.2M413.5 70.07H436.2M413.5 70.02H436.2M413.5 69.98H436.2M413.5 69.93H436.2M413.5 69.89H436.2M413.5 69.85H436.2M413.5 69.81H436.2M413.5 69.76H436.2M413.5 69.72H436.2M413.5 69.68H436.2M413.5 69.65H436.2M413.5 69.61H436.2M413.5 69.57H436.2M413.5 69.53H436.2M413.5 69.5H436.2M413.5 69.46H436.2M413.5 69.43H436.2M413.5 69.39H436.2M413.5 69.36H436.2M413.5 69.33H436.2M413.5 69.29H436.2M413.5 69.26H436.2M413.5 69.23H436.2M413.5 69.2H436.2M413.5 69.17H436.2M413.5 69.14H436.2M413.5 69.11H436.2M413.5 69.08H436.2M413.5 69.05H436.2M413.5 69.02H436.2M413.5 68.99H436.2M413.5 68.97H436.2M413.5 68.94H436.2M413.5 68.91H436.2M413.5 68.89H436.2M413.5 68.86H436.2M413.5 68.84H436.2M413.5 68.81H436.2M413.5 68.79H436.2M413.5 68.76H436.2M413.5 68.74H436.2M413.5 68.72H436.2M413.5 68.69H436.2M413.5 68.67H436.2M413.5 68.65H436.2M413.5 68.63H436.2M413.5 68.61H436.2M413.5 68.58H436.2M413.5 68.56H436.2M413.5 68.54H436.2M413.5 68.52H436.2M413.5 68.5H436.2M413.5 68.48H436.2M413.5 68.46H436.2M413.5 68.44H436.2M413.5 68.42H436.2M413.5 68.4H436.2M413.5 68.39H436.2M413.5 68.37H436.2M413.5 68.35H436.2M413.5 68.33H436.2M413.5 68.31H436.2M413.5 68.3H436.2M413.5 68.28H436.2M413.5 68.26H436.2M413.5 68.25H436.2M413.5 68.23H436.2M413.5 68.21H436.2M413.5 68.2H436.2M413.5 68.18H436.2M413.5 68.17H436.2M413.5 68.15H436.2" stroke="#000" stroke-width="1.0" fill="none"/>
<rect x="413.5" y="65.8" width="22.7" height="2.05" fill="#000"/>
<path d="M442.8 256.4H465.5M442.8 241.7H465.5M442.8 224.7H465.5M442.8 214.3H465.5M442.8 203.3H465.5M442.8 193.35H465.5M442.8 184.45H465.5M442.8 176.45H465.5M442.8 169.23H465.5M442.8 162.71H465.5M442.8 156.78H465.5M442.8 151.39H465.5M442.8 146.46H465.5M442.8 141.95H465.5M442.8 137.81H465.5M442.8 134H465.5M442.8 130.49H465.5M442.8 127.25H465.5M442.8 124.24H465.5M442.8 121.46H465.5M442.8 118.87H465.5M442.8 116.45H465.5M442.8 114.2H465.5M442.8 112.1H465.5M442.8 110.14H465.5M442.8 108.3H465.5M442.8 106.57H465.5M442.8 104.95H465.5M442.8 103.42H465.5M442.8 101.98H465.5M442.8 100.63H465.5M442.8 99.35H465.5M442.8 98.14H465.5M442.8 97H465.5M442.8 95.91H465.5M442.8 94.89H465.5M442.8 93.91H465.5M442.8 92.99H465.5M442.8 92.11H465.5M442.8 91.27H465.5M442.8 90.48H465.5M442.8 89.72H465.5M442.8 89H465.5M442.8 88.31H465.5M442.8 87.65H465.5M442.8 87.02H465.5M442.8 86.42H465.5M442.8 85.84H465.5M442.8 85.29H465.5M442.8 84.76H465.5M442.8 84.25H465.5M442.8 83.77H465.5M442.8 83.3H465.5M442.8 82.85H465.5M442.8 82.42H465.5M442.8 82.01H465.5M442.8 81.61H465.5M442.8 81.23H465.5M442.8 80.86H465.5M442.8 80.51H465.5M442.8 80.16H465.5M442.8 79.83H465.5M442.8 79.52H465.5M442.8 79.21H465.5M442.8 78.91H465.5M442.8 78.63H465.5M442.8 78.35H465.5M442.8 78.08H465.5M442.8 77.83H465.5M442.8 77.58H465.5M442.8 77.33H465.5M442.8 77.1H465.5M442.8 76.87H465.5M442.8 76.65H465.5M442.8 76.44H465.5M442.8 76.24H465.5M442.8 76.04H465.5M442.8 75.84H465.5M442.8 75.66H465.5M442.8 75.47H465.5M442.8 75.3H465.5M442.8 75.12H465.5M442.8 74.96H465.5M442.8 74.79H465.5M442.8 74.64H465.5M442.8 74.48H465.5M442.8 74.33H465.5M442.8 74.19H465.5M442.8 74.05H465.5M442.8 73.91H465.5M442.8 73.78H465.5M442.8 73.65H465.5M442.8 73.52H465.5M442.8 73.4H465.5M442.8 73.28H465.5M442.8 73.16H465.5M442.8 73.05H465.5M442.8 72.94H465.5M442.8 72.83H465.5M442.8 72.72H465.5M442.8 72.62H465.5M442.8 72.52H465.5M442.8 72.42H465.5M442.8 72.32H465.5M442.8 72.23H465.5M442.8 72.14H465.5M442.8 72.05H465.5M442.8 71.96H465.5M442.8 71.88H465.5M442.8 71.79H465.5M442.8 71.71H465.5M442.8 71.63H465.5M442.8 71.55H465.5M442.8 71.48H465.5M442.8 71.4H465.5M442.8 71.33H465.5M442.8 71.26H465.5M442.8 71.19H465.5M442.8 71.12H465.5M442.8 71.06H465.5M442.8 70.99H465.5M442.8 70.93H465.5M442.8 70.86H465.5M442.8 70.8H465.5M442.8 70.74H465.5M442.8 70.68H465.5M442.8 70.63H465.5M442.8 70.57H465.5M442.8 70.51H465.5M442.8 70.46H465.5M442.8 70.41H465.5M442.8 70.35H465.5M442.8 70.3H465.5M442.8 70.25H465.5M442.8 70.2H465.5M442.8 70.15H465.5M442.8 70.11H465.5M442.8 70.06H465.5M442.8 70.02H465.5M442.8 69.97H465.5M442.8 69.93H465.5M442.8 69.88H465.5M442.8 69.84H465.5M442.8 69.8H465.5M442.8 69.76H465.5M442.8 69.72H465.5M442.8 69.68H465.5M442.8 69.64H465.5M442.8 69.6H465.5M442.8 69.57H465.5M442.8 69.53H465.5M442.8 69.49H465.5M442.8 69.46H465.5M442.8 69.42H465.5M442.8 69.39H465.5M442.8 69.35H465.5M442.8 69.32H465.5M442.8 69.29H465.5M442.8 69.26H465.5M442.8 69.23H465.5M442.8 69.19H465.5M442.8 69.16H465.5M442.8 69.13H465.5M442.8 69.1H465.5M442.8 69.08H465.5M442.8 69.05H465.5M442.8 69.02H465.5M442.8 68.99H465.5M442.8 68.96H465.5M442.8 68.94H465.5M442.8 68.91H465.5M442.8 68.88H465.5M442.8 68.86H465.5M442.8 68.83H465.5M442.8 68.81H465.5M442.8 68.78H465.5M442.8 68.76H465.5M442.8 68.74H465.5M442.8 68.71H465.5M442.8 68.69H465.5M442.8 68.67H465.5M442.8 68.65H465.5M442.8 68.62H465.5M442.8 68.6H465.5M442.8 68.58H465.5M442.8 68.56H465.5M442.8 68.54H465.5M442.8 68.52H465.5M442.8 68.5H465.5M442.8 68.48H465.5M442.8 68.46H465.5M442.8 68.44H465.5M442.8 68.42H465.5M442.8 68.4H465.5M442.8 68.38H465.5M442.8 68.37H465.5M442.8 68.35H465.5M442.8 68.33H465.5M442.8 68.31H465.5M442.8 68.29H465.5M442.8 68.28H465.5M442.8 68.26H465.5M442.8 68.24H465.5M442.8 68.23H465.5M442.8 68.21H465.5M442.8 68.2H465.5M442.8 68.18H465.5M442.8 68.16H465.5M442.8 68.15H465.5" stroke="#000" stroke-width="1.0" fill="none"/>
<rect x="442.8" y="65.8" width="22.7" height="2.05" fill="#000"/>
<rect x="177.2" y="232.8" width="81.3" height="2.5" fill="#000"/>
<rect x="280.8" y="173.2" width="81.3" height="2.5" fill="#000"/>
<rect x="384.2" y="64.55" width="81.3" height="2.5" fill="#000"/>
<path d="M278 177.35L277.15 177.36L276.3 177.39L275.46 177.45L274.62 177.52L273.79 177.62L272.97 177.74L272.16 177.88L271.37 178.04L270.59 178.22L269.83 178.42L269.08 178.64L268.36 178.88L267.66 179.14L266.98 179.42L266.33 179.71L265.7 180.02L265.11 180.34L264.54 180.68L264 181.03L263.5 181.4L263.03 181.78L262.59 182.17L262.19 182.57L261.83 182.99" stroke="#00a9ff" stroke-width="1.15" stroke-dasharray="1.2 1.3" fill="none"/>
<path d="M260.38 182.43L263.28 183.54L260.2 187.25Z" fill="#00a9ff"/>
<path d="M278 183.97L277.15 183.98L276.3 184.01L275.46 184.07L274.62 184.14L273.79 184.24L272.97 184.36L272.16 184.5L271.37 184.66L270.59 184.84L269.83 185.04L269.08 185.26L268.36 185.5L267.66 185.76L266.98 186.04L266.33 186.33L265.7 186.64L265.11 186.96L264.54 187.3L264 187.65L263.5 188.02L263.03 188.4L262.59 188.79L262.19 189.19L261.83 189.61" stroke="#00a9ff" stroke-width="1.15" stroke-dasharray="1.2 1.3" fill="none"/>
<path d="M260.38 189.05L263.28 190.16L260.2 193.87Z" fill="#00a9ff"/>
<path d="M278 190.59L277.15 190.6L276.3 190.63L275.46 190.69L274.62 190.76L273.79 190.86L272.97 190.98L272.16 191.12L271.37 191.28L270.59 191.46L269.83 191.66L269.08 191.88L268.36 192.12L267.66 192.38L266.98 192.66L266.33 192.95L265.7 193.26L265.11 193.58L264.54 193.92L264 194.27L263.5 194.64L263.03 195.02L262.59 195.41L262.19 195.81L261.83 196.23" stroke="#00a9ff" stroke-width="1.15" stroke-dasharray="1.2 1.3" fill="none"/>
<path d="M260.38 195.67L263.28 196.78L260.2 200.49Z" fill="#00a9ff"/>
<path d="M278 197.21L277.15 197.22L276.3 197.25L275.46 197.31L274.62 197.38L273.79 197.48L272.97 197.6L272.16 197.74L271.37 197.9L270.59 198.08L269.83 198.28L269.08 198.5L268.36 198.74L267.66 199L266.98 199.28L266.33 199.57L265.7 199.88L265.11 200.2L264.54 200.54L264 200.89L263.5 201.26L263.03 201.64L262.59 202.03L262.19 202.43L261.83 202.85" stroke="#00a9ff" stroke-width="1.15" stroke-dasharray="1.2 1.3" fill="none"/>
<path d="M260.38 202.29L263.28 203.4L260.2 207.11Z" fill="#00a9ff"/>
<path d="M278 203.83L277.15 203.84L276.3 203.87L275.46 203.93L274.62 204L273.79 204.1L272.97 204.22L272.16 204.36L271.37 204.52L270.59 204.7L269.83 204.9L269.08 205.12L268.36 205.36L267.66 205.62L266.98 205.9L266.33 206.19L265.7 206.5L265.11 206.82L264.54 207.16L264 207.51L263.5 207.88L263.03 208.26L262.59 208.65L262.19 209.05L261.83 209.47" stroke="#00a9ff" stroke-width="1.15" stroke-dasharray="1.2 1.3" fill="none"/>
<path d="M260.38 208.91L263.28 210.02L260.2 213.73Z" fill="#00a9ff"/>
<path d="M278 210.45L277.15 210.46L276.3 210.49L275.46 210.55L274.62 210.62L273.79 210.72L272.97 210.84L272.16 210.98L271.37 211.14L270.59 211.32L269.83 211.52L269.08 211.74L268.36 211.98L267.66 212.24L266.98 212.52L266.33 212.81L265.7 213.12L265.11 213.44L264.54 213.78L264 214.13L263.5 214.5L263.03 214.88L262.59 215.27L262.19 215.67L261.83 216.09" stroke="#00a9ff" stroke-width="1.15" stroke-dasharray="1.2 1.3" fill="none"/>
<path d="M260.38 215.53L263.28 216.64L260.2 220.35Z" fill="#00a9ff"/>
<path d="M381.4 69.7L380.55 69.71L379.7 69.74L378.86 69.8L378.02 69.87L377.19 69.97L376.37 70.09L375.56 70.23L374.77 70.39L373.99 70.57L373.23 70.77L372.48 70.99L371.76 71.23L371.06 71.49L370.38 71.77L369.73 72.06L369.1 72.37L368.51 72.69L367.94 73.03L367.4 73.38L366.9 73.75L366.43 74.13L365.99 74.52L365.59 74.92L365.23 75.34" stroke="#00a9ff" stroke-width="1.15" stroke-dasharray="1.2 1.3" fill="none"/>
<path d="M363.78 74.78L366.68 75.89L363.6 79.6Z" fill="#00a9ff"/>
<path d="M381.4 76.32L380.55 76.33L379.7 76.36L378.86 76.42L378.02 76.49L377.19 76.59L376.37 76.71L375.56 76.85L374.77 77.01L373.99 77.19L373.23 77.39L372.48 77.61L371.76 77.85L371.06 78.11L370.38 78.39L369.73 78.68L369.1 78.99L368.51 79.31L367.94 79.65L367.4 80L366.9 80.37L366.43 80.75L365.99 81.14L365.59 81.54L365.23 81.96" stroke="#00a9ff" stroke-width="1.15" stroke-dasharray="1.2 1.3" fill="none"/>
<path d="M363.78 81.4L366.68 82.51L363.6 86.22Z" fill="#00a9ff"/>
<path d="M381.4 82.94L380.55 82.95L379.7 82.98L378.86 83.04L378.02 83.11L377.19 83.21L376.37 83.33L375.56 83.47L374.77 83.63L373.99 83.81L373.23 84.01L372.48 84.23L371.76 84.47L371.06 84.73L370.38 85.01L369.73 85.3L369.1 85.61L368.51 85.93L367.94 86.27L367.4 86.62L366.9 86.99L366.43 87.37L365.99 87.76L365.59 88.16L365.23 88.58" stroke="#00a9ff" stroke-width="1.15" stroke-dasharray="1.2 1.3" fill="none"/>
<path d="M363.78 88.02L366.68 89.13L363.6 92.84Z" fill="#00a9ff"/>
<path d="M381.4 89.56L380.55 89.57L379.7 89.6L378.86 89.66L378.02 89.73L377.19 89.83L376.37 89.95L375.56 90.09L374.77 90.25L373.99 90.43L373.23 90.63L372.48 90.85L371.76 91.09L371.06 91.35L370.38 91.63L369.73 91.92L369.1 92.23L368.51 92.55L367.94 92.89L367.4 93.24L366.9 93.61L366.43 93.99L365.99 94.38L365.59 94.78L365.23 95.2" stroke="#00a9ff" stroke-width="1.15" stroke-dasharray="1.2 1.3" fill="none"/>
<path d="M363.78 94.64L366.68 95.75L363.6 99.46Z" fill="#00a9ff"/>
<path d="M381.4 96.18L380.55 96.19L379.7 96.22L378.86 96.28L378.02 96.35L377.19 96.45L376.37 96.57L375.56 96.71L374.77 96.87L373.99 97.05L373.23 97.25L372.48 97.47L371.76 97.71L371.06 97.97L370.38 98.25L369.73 98.54L369.1 98.85L368.51 99.17L367.94 99.51L367.4 99.86L366.9 100.23L366.43 100.61L365.99 101L365.59 101.4L365.23 101.82" stroke="#00a9ff" stroke-width="1.15" stroke-dasharray="1.2 1.3" fill="none"/>
<path d="M363.78 101.26L366.68 102.37L363.6 106.08Z" fill="#00a9ff"/>
<path d="M381.4 102.8L380.55 102.81L379.7 102.84L378.86 102.9L378.02 102.97L377.19 103.07L376.37 103.19L375.56 103.33L374.77 103.49L373.99 103.67L373.23 103.87L372.48 104.09L371.76 104.33L371.06 104.59L370.38 104.87L369.73 105.16L369.1 105.47L368.51 105.79L367.94 106.13L367.4 106.48L366.9 106.85L366.43 107.23L365.99 107.62L365.59 108.02L365.23 108.44" stroke="#00a9ff" stroke-width="1.15" stroke-dasharray="1.2 1.3" fill="none"/>
<path d="M363.78 107.88L366.68 108.99L363.6 112.7Z" fill="#00a9ff"/>
<path d="M381.4 109.42L380.55 109.43L379.7 109.46L378.86 109.52L378.02 109.59L377.19 109.69L376.37 109.81L375.56 109.95L374.77 110.11L373.99 110.29L373.23 110.49L372.48 110.71L371.76 110.95L371.06 111.21L370.38 111.49L369.73 111.78L369.1 112.09L368.51 112.41L367.94 112.75L367.4 113.1L366.9 113.47L366.43 113.85L365.99 114.24L365.59 114.64L365.23 115.06" stroke="#00a9ff" stroke-width="1.15" stroke-dasharray="1.2 1.3" fill="none"/>
<path d="M363.78 114.5L366.68 115.61L363.6 119.32Z" fill="#00a9ff"/>
<path d="M381.4 116.04L380.55 116.05L379.7 116.08L378.86 116.14L378.02 116.21L377.19 116.31L376.37 116.43L375.56 116.57L374.77 116.73L373.99 116.91L373.23 117.11L372.48 117.33L371.76 117.57L371.06 117.83L370.38 118.11L369.73 118.4L369.1 118.71L368.51 119.03L367.94 119.37L367.4 119.72L366.9 120.09L366.43 120.47L365.99 120.86L365.59 121.26L365.23 121.68" stroke="#00a9ff" stroke-width="1.15" stroke-dasharray="1.2 1.3" fill="none"/>
<path d="M363.78 121.12L366.68 122.23L363.6 125.94Z" fill="#00a9ff"/>
<path d="M381.4 122.66L380.55 122.67L379.7 122.7L378.86 122.76L378.02 122.83L377.19 122.93L376.37 123.05L375.56 123.19L374.77 123.35L373.99 123.53L373.23 123.73L372.48 123.95L371.76 124.19L371.06 124.45L370.38 124.73L369.73 125.02L369.1 125.33L368.51 125.65L367.94 125.99L367.4 126.34L366.9 126.71L366.43 127.09L365.99 127.48L365.59 127.88L365.23 128.3" stroke="#00a9ff" stroke-width="1.15" stroke-dasharray="1.2 1.3" fill="none"/>
<path d="M363.78 127.74L366.68 128.85L363.6 132.56Z" fill="#00a9ff"/>
<path d="M381.4 129.28L380.55 129.29L379.7 129.32L378.86 129.38L378.02 129.45L377.19 129.55L376.37 129.67L375.56 129.81L374.77 129.97L373.99 130.15L373.23 130.35L372.48 130.57L371.76 130.81L371.06 131.07L370.38 131.35L369.73 131.64L369.1 131.95L368.51 132.27L367.94 132.61L367.4 132.96L366.9 133.33L366.43 133.71L365.99 134.1L365.59 134.5L365.23 134.92" stroke="#00a9ff" stroke-width="1.15" stroke-dasharray="1.2 1.3" fill="none"/>
<path d="M363.78 134.36L366.68 135.47L363.6 139.18Z" fill="#00a9ff"/>
<path d="M381.4 135.9L380.55 135.91L379.7 135.94L378.86 136L378.02 136.07L377.19 136.17L376.37 136.29L375.56 136.43L374.77 136.59L373.99 136.77L373.23 136.97L372.48 137.19L371.76 137.43L371.06 137.69L370.38 137.97L369.73 138.26L369.1 138.57L368.51 138.89L367.94 139.23L367.4 139.58L366.9 139.95L366.43 140.33L365.99 140.72L365.59 141.12L365.23 141.54" stroke="#00a9ff" stroke-width="1.15" stroke-dasharray="1.2 1.3" fill="none"/>
<path d="M363.78 140.98L366.68 142.09L363.6 145.8Z" fill="#00a9ff"/>
<path d="M381.4 142.52L380.55 142.53L379.7 142.56L378.86 142.62L378.02 142.69L377.19 142.79L376.37 142.91L375.56 143.05L374.77 143.21L373.99 143.39L373.23 143.59L372.48 143.81L371.76 144.05L371.06 144.31L370.38 144.59L369.73 144.88L369.1 145.19L368.51 145.51L367.94 145.85L367.4 146.2L366.9 146.57L366.43 146.95L365.99 147.34L365.59 147.74L365.23 148.16" stroke="#00a9ff" stroke-width="1.15" stroke-dasharray="1.2 1.3" fill="none"/>
<path d="M363.78 147.6L366.68 148.71L363.6 152.42Z" fill="#00a9ff"/>
<path d="M267.4 264.78H272.6" stroke="#747474" stroke-width="1" stroke-dasharray="1 1.05" fill="none"/>
<path d="M262.5 264.78l4.1 -1.65v3.3zM277.7 264.78l-4.1 -1.65v3.3z" fill="#b4b4b4" stroke="#8c8c8c" stroke-width="0.45" stroke-linejoin="round"/>
<path d="M267.4 259.39H272.6" stroke="#747474" stroke-width="1" stroke-dasharray="1 1.05" fill="none"/>
<path d="M262.5 259.39l4.1 -1.65v3.3zM277.7 259.39l-4.1 -1.65v3.3z" fill="#b4b4b4" stroke="#8c8c8c" stroke-width="0.45" stroke-linejoin="round"/>
<path d="M267.4 254.46H272.6" stroke="#747474" stroke-width="1" stroke-dasharray="1 1.05" fill="none"/>
<path d="M262.5 254.46l4.1 -1.65v3.3zM277.7 254.46l-4.1 -1.65v3.3z" fill="#b4b4b4" stroke="#8c8c8c" stroke-width="0.45" stroke-linejoin="round"/>
<path d="M267.4 249.95H272.6" stroke="#747474" stroke-width="1" stroke-dasharray="1 1.05" fill="none"/>
<path d="M262.5 249.95l4.1 -1.65v3.3zM277.7 249.95l-4.1 -1.65v3.3z" fill="#b4b4b4" stroke="#8c8c8c" stroke-width="0.45" stroke-linejoin="round"/>
<path d="M267.4 245.81H272.6" stroke="#747474" stroke-width="1" stroke-dasharray="1 1.05" fill="none"/>
<path d="M262.5 245.81l4.1 -1.65v3.3zM277.7 245.81l-4.1 -1.65v3.3z" fill="#b4b4b4" stroke="#8c8c8c" stroke-width="0.45" stroke-linejoin="round"/>
<path d="M267.4 242H272.6" stroke="#747474" stroke-width="1" stroke-dasharray="1 1.05" fill="none"/>
<path d="M262.5 242l4.1 -1.65v3.3zM277.7 242l-4.1 -1.65v3.3z" fill="#b4b4b4" stroke="#8c8c8c" stroke-width="0.45" stroke-linejoin="round"/>
<path d="M267.4 238.49H272.6" stroke="#747474" stroke-width="1" stroke-dasharray="1 1.05" fill="none"/>
<path d="M262.5 238.49l4.1 -1.65v3.3zM277.7 238.49l-4.1 -1.65v3.3z" fill="#b4b4b4" stroke="#8c8c8c" stroke-width="0.45" stroke-linejoin="round"/>
<path d="M267.4 235.25H272.6" stroke="#747474" stroke-width="1" stroke-dasharray="1 1.05" fill="none"/>
<path d="M262.5 235.25l4.1 -1.65v3.3zM277.7 235.25l-4.1 -1.65v3.3z" fill="#b4b4b4" stroke="#8c8c8c" stroke-width="0.45" stroke-linejoin="round"/>
<path d="M370.8 257.62H376" stroke="#747474" stroke-width="1" stroke-dasharray="1 1.05" fill="none"/>
<path d="M365.9 257.62l4.1 -1.65v3.3zM381.1 257.62l-4.1 -1.65v3.3z" fill="#b4b4b4" stroke="#8c8c8c" stroke-width="0.45" stroke-linejoin="round"/>
<path d="M370.8 241.35H376" stroke="#747474" stroke-width="1" stroke-dasharray="1 1.05" fill="none"/>
<path d="M365.9 241.35l4.1 -1.65v3.3zM381.1 241.35l-4.1 -1.65v3.3z" fill="#b4b4b4" stroke="#8c8c8c" stroke-width="0.45" stroke-linejoin="round"/>
<path d="M370.8 227.08H376" stroke="#747474" stroke-width="1" stroke-dasharray="1 1.05" fill="none"/>
<path d="M365.9 227.08l4.1 -1.65v3.3zM381.1 227.08l-4.1 -1.65v3.3z" fill="#b4b4b4" stroke="#8c8c8c" stroke-width="0.45" stroke-linejoin="round"/>
<path d="M370.8 214.48H376" stroke="#747474" stroke-width="1" stroke-dasharray="1 1.05" fill="none"/>
<path d="M365.9 214.48l4.1 -1.65v3.3zM381.1 214.48l-4.1 -1.65v3.3z" fill="#b4b4b4" stroke="#8c8c8c" stroke-width="0.45" stroke-linejoin="round"/>
<path d="M370.8 203.31H376" stroke="#747474" stroke-width="1" stroke-dasharray="1 1.05" fill="none"/>
<path d="M365.9 203.31l4.1 -1.65v3.3zM381.1 203.31l-4.1 -1.65v3.3z" fill="#b4b4b4" stroke="#8c8c8c" stroke-width="0.45" stroke-linejoin="round"/>
<path d="M370.8 193.35H376" stroke="#747474" stroke-width="1" stroke-dasharray="1 1.05" fill="none"/>
<path d="M365.9 193.35l4.1 -1.65v3.3zM381.1 193.35l-4.1 -1.65v3.3z" fill="#b4b4b4" stroke="#8c8c8c" stroke-width="0.45" stroke-linejoin="round"/>
<path d="M370.8 184.45H376" stroke="#747474" stroke-width="1" stroke-dasharray="1 1.05" fill="none"/>
<path d="M365.9 184.45l4.1 -1.65v3.3zM381.1 184.45l-4.1 -1.65v3.3z" fill="#b4b4b4" stroke="#8c8c8c" stroke-width="0.45" stroke-linejoin="round"/>
<path d="M370.8 176.45H376" stroke="#747474" stroke-width="1" stroke-dasharray="1 1.05" fill="none"/>
<path d="M365.9 176.45l4.1 -1.65v3.3zM381.1 176.45l-4.1 -1.65v3.3z" fill="#b4b4b4" stroke="#8c8c8c" stroke-width="0.45" stroke-linejoin="round"/>
<path d="M177.2 548.8H258.2" stroke="#000" stroke-width="1.4" fill="none"/>
<path d="M177.2 558.4H258.2" stroke="#000" stroke-width="1.4" fill="none"/>
<path d="M177.2 564.1H258.2" stroke="#000" stroke-width="1.4" fill="none"/>
<path d="M280.8 491H361.8" stroke="#000" stroke-width="1.4" fill="none"/>
<path d="M280.8 493.4H361.8" stroke="#000" stroke-width="1.4" fill="none"/>
<path d="M280.8 500.4H361.8" stroke="#000" stroke-width="1.4" fill="none"/>
<path d="M384.2 376.5H465.2" stroke="#000" stroke-width="1.4" fill="none"/>
<path d="M384.2 378.3H465.2" stroke="#000" stroke-width="1.4" fill="none"/>
<path d="M384.2 385.3H465.2" stroke="#000" stroke-width="1.4" fill="none"/>
<path d="M284.9 491L250.87 304.8M249.95 299.8L240.96 250.59" stroke="#ffa500" stroke-width="1.35" fill="none"/>
<path d="M245.75 302.1L254.15 297.5M246.67 307.1L255.07 302.5" stroke="#ffa500" stroke-width="1.3" fill="none"/>
<path d="M0 0Q1.25 5.885 3.35 10.7L0 8.299999999999999L-3.35 10.7Q-1.25 5.885 0 0Z" fill="#ffa500" transform="translate(239.7 243.7) rotate(-10.36)"/>
<path d="M292.2 493.4L258.06 304.8M257.16 299.8L248.25 250.59" stroke="#ffa500" stroke-width="1.35" fill="none"/>
<path d="M252.96 302.1L261.36 297.5M253.86 307.1L262.26 302.5" stroke="#ffa500" stroke-width="1.3" fill="none"/>
<path d="M0 0Q1.25 5.885 3.35 10.7L0 8.299999999999999L-3.35 10.7Q-1.25 5.885 0 0Z" fill="#ffa500" transform="translate(247 243.7) rotate(-10.26)"/>
<path d="M299.5 500.4L265.06 304.8M264.18 299.8L255.51 250.59" stroke="#ffa500" stroke-width="1.35" fill="none"/>
<path d="M259.98 302.1L268.38 297.5M260.86 307.1L269.26 302.5" stroke="#ffa500" stroke-width="1.3" fill="none"/>
<path d="M0 0Q1.25 5.885 3.35 10.7L0 8.299999999999999L-3.35 10.7Q-1.25 5.885 0 0Z" fill="#ffa500" transform="translate(254.3 243.7) rotate(-9.99)"/>
<path d="M388.3 376.5L371.28 304.8M370.1 299.8L344.92 193.71" stroke="#ffa500" stroke-width="1.35" fill="none"/>
<path d="M365.9 302.1L374.3 297.5M367.08 307.1L375.48 302.5" stroke="#ffa500" stroke-width="1.3" fill="none"/>
<path d="M0 0Q1.25 5.885 3.35 10.7L0 8.299999999999999L-3.35 10.7Q-1.25 5.885 0 0Z" fill="#ffa500" transform="translate(343.3 186.9) rotate(-13.35)"/>
<path d="M395.6 378.3L378.32 304.8M377.14 299.8L352.2 193.71" stroke="#ffa500" stroke-width="1.35" fill="none"/>
<path d="M372.94 302.1L381.34 297.5M374.12 307.1L382.52 302.5" stroke="#ffa500" stroke-width="1.3" fill="none"/>
<path d="M0 0Q1.25 5.885 3.35 10.7L0 8.299999999999999L-3.35 10.7Q-1.25 5.885 0 0Z" fill="#ffa500" transform="translate(350.6 186.9) rotate(-13.23)"/>
<path d="M402.9 385.3L384.64 304.8M383.51 299.8L359.45 193.73" stroke="#ffa500" stroke-width="1.35" fill="none"/>
<path d="M379.31 302.1L387.71 297.5M380.44 307.1L388.84 302.5" stroke="#ffa500" stroke-width="1.3" fill="none"/>
<path d="M0 0Q1.25 5.885 3.35 10.7L0 8.299999999999999L-3.35 10.7Q-1.25 5.885 0 0Z" fill="#ffa500" transform="translate(357.9 186.9) rotate(-12.78)"/>
<path d="M181.3 548.8V304.8M181.3 299.8V251.2" stroke="#ff0000" stroke-width="1.38" fill="none"/>
<path d="M177.1 302.1L185.5 297.5M177.1 307.1L185.5 302.5" stroke="#ff0000" stroke-width="1.3" fill="none"/>
<path d="M0 0Q1.25 5.885 3.35 10.7L0 8.299999999999999L-3.35 10.7Q-1.25 5.885 0 0Z" fill="#ff0000" transform="translate(181.3 243.7) rotate(0)"/>
<path d="M188.6 558.4V304.8M188.6 299.8V290.6M188.6 271V251.2" stroke="#ff0000" stroke-width="1.38" fill="none"/>
<path d="M184.4 302.1L192.8 297.5M184.4 307.1L192.8 302.5" stroke="#ff0000" stroke-width="1.3" fill="none"/>
<path d="M0 0Q1.25 5.885 3.35 10.7L0 8.299999999999999L-3.35 10.7Q-1.25 5.885 0 0Z" fill="#ff0000" transform="translate(188.6 243.7) rotate(0)"/>
<path d="M195.9 564.1V304.8M195.9 299.8V251.2" stroke="#ff0000" stroke-width="1.38" fill="none"/>
<path d="M191.7 302.1L200.1 297.5M191.7 307.1L200.1 302.5" stroke="#ff0000" stroke-width="1.3" fill="none"/>
<path d="M0 0Q1.25 5.885 3.35 10.7L0 8.299999999999999L-3.35 10.7Q-1.25 5.885 0 0Z" fill="#ff0000" transform="translate(195.9 243.7) rotate(0)"/>
<path d="M210.5 548.8V304.8M210.5 299.8V251.2" stroke="#ff0000" stroke-width="1.38" fill="none"/>
<path d="M206.3 302.1L214.7 297.5M206.3 307.1L214.7 302.5" stroke="#ff0000" stroke-width="1.3" fill="none"/>
<path d="M0 0Q1.25 5.885 3.35 10.7L0 8.299999999999999L-3.35 10.7Q-1.25 5.885 0 0Z" fill="#ff0000" transform="translate(210.5 243.7) rotate(0)"/>
<path d="M217.8 558.4V304.8M217.8 299.8V290.6M217.8 271V251.2" stroke="#ff0000" stroke-width="1.38" fill="none"/>
<path d="M213.6 302.1L222 297.5M213.6 307.1L222 302.5" stroke="#ff0000" stroke-width="1.3" fill="none"/>
<path d="M0 0Q1.25 5.885 3.35 10.7L0 8.299999999999999L-3.35 10.7Q-1.25 5.885 0 0Z" fill="#ff0000" transform="translate(217.8 243.7) rotate(0)"/>
<path d="M225.1 564.1V304.8M225.1 299.8V251.2" stroke="#ff0000" stroke-width="1.38" fill="none"/>
<path d="M220.9 302.1L229.3 297.5M220.9 307.1L229.3 302.5" stroke="#ff0000" stroke-width="1.3" fill="none"/>
<path d="M0 0Q1.25 5.885 3.35 10.7L0 8.299999999999999L-3.35 10.7Q-1.25 5.885 0 0Z" fill="#ff0000" transform="translate(225.1 243.7) rotate(0)"/>
<path d="M239.7 548.8V304.8M239.7 299.8V251.2" stroke="#ff0000" stroke-width="1.38" fill="none"/>
<path d="M235.5 302.1L243.9 297.5M235.5 307.1L243.9 302.5" stroke="#ff0000" stroke-width="1.3" fill="none"/>
<path d="M0 0Q1.25 5.885 3.35 10.7L0 8.299999999999999L-3.35 10.7Q-1.25 5.885 0 0Z" fill="#ff0000" transform="translate(239.7 243.7) rotate(0)"/>
<path d="M247 558.4V304.8M247 299.8V290.6M247 271V251.2" stroke="#ff0000" stroke-width="1.38" fill="none"/>
<path d="M242.8 302.1L251.2 297.5M242.8 307.1L251.2 302.5" stroke="#ff0000" stroke-width="1.3" fill="none"/>
<path d="M0 0Q1.25 5.885 3.35 10.7L0 8.299999999999999L-3.35 10.7Q-1.25 5.885 0 0Z" fill="#ff0000" transform="translate(247 243.7) rotate(0)"/>
<path d="M254.3 564.1V304.8M254.3 299.8V251.2" stroke="#ff0000" stroke-width="1.38" fill="none"/>
<path d="M250.1 302.1L258.5 297.5M250.1 307.1L258.5 302.5" stroke="#ff0000" stroke-width="1.3" fill="none"/>
<path d="M0 0Q1.25 5.885 3.35 10.7L0 8.299999999999999L-3.35 10.7Q-1.25 5.885 0 0Z" fill="#ff0000" transform="translate(254.3 243.7) rotate(0)"/>
<path d="M284.9 491V304.8M284.9 299.8V250.1" stroke="#ff0000" stroke-width="1.38" fill="none"/>
<path d="M280.7 302.1L289.1 297.5M280.7 307.1L289.1 302.5" stroke="#ff0000" stroke-width="1.3" fill="none"/>
<path d="M0 0Q1.25 5.885 3.35 10.7L0 8.299999999999999L-3.35 10.7Q-1.25 5.885 0 0Z" fill="#ff0000" transform="translate(284.9 242.6) rotate(0)"/>
<path d="M292.2 493.4V304.8M292.2 299.8V290.6M292.2 271V250.1" stroke="#ff0000" stroke-width="1.38" fill="none"/>
<path d="M288 302.1L296.4 297.5M288 307.1L296.4 302.5" stroke="#ff0000" stroke-width="1.3" fill="none"/>
<path d="M0 0Q1.25 5.885 3.35 10.7L0 8.299999999999999L-3.35 10.7Q-1.25 5.885 0 0Z" fill="#ff0000" transform="translate(292.2 242.6) rotate(0)"/>
<path d="M299.5 500.4V304.8M299.5 299.8V250.1" stroke="#ff0000" stroke-width="1.38" fill="none"/>
<path d="M295.3 302.1L303.7 297.5M295.3 307.1L303.7 302.5" stroke="#ff0000" stroke-width="1.3" fill="none"/>
<path d="M0 0Q1.25 5.885 3.35 10.7L0 8.299999999999999L-3.35 10.7Q-1.25 5.885 0 0Z" fill="#ff0000" transform="translate(299.5 242.6) rotate(0)"/>
<path d="M314.1 491V304.8M314.1 299.8V194.4" stroke="#ff0000" stroke-width="1.38" fill="none"/>
<path d="M309.9 302.1L318.3 297.5M309.9 307.1L318.3 302.5" stroke="#ff0000" stroke-width="1.3" fill="none"/>
<path d="M0 0Q1.25 5.885 3.35 10.7L0 8.299999999999999L-3.35 10.7Q-1.25 5.885 0 0Z" fill="#ff0000" transform="translate(314.1 241.8) rotate(0)"/>
<path d="M0 0Q1.25 5.885 3.35 10.7L0 8.299999999999999L-3.35 10.7Q-1.25 5.885 0 0Z" fill="#ff0000" transform="translate(314.1 186.9) rotate(0)"/>
<path d="M321.4 493.4V304.8M321.4 299.8V290.6M321.4 271V194.4" stroke="#ff0000" stroke-width="1.38" fill="none"/>
<path d="M317.2 302.1L325.6 297.5M317.2 307.1L325.6 302.5" stroke="#ff0000" stroke-width="1.3" fill="none"/>
<path d="M0 0Q1.25 5.885 3.35 10.7L0 8.299999999999999L-3.35 10.7Q-1.25 5.885 0 0Z" fill="#ff0000" transform="translate(321.4 241.8) rotate(0)"/>
<path d="M0 0Q1.25 5.885 3.35 10.7L0 8.299999999999999L-3.35 10.7Q-1.25 5.885 0 0Z" fill="#ff0000" transform="translate(321.4 186.9) rotate(0)"/>
<path d="M328.7 500.4V304.8M328.7 299.8V194.4" stroke="#ff0000" stroke-width="1.38" fill="none"/>
<path d="M324.5 302.1L332.9 297.5M324.5 307.1L332.9 302.5" stroke="#ff0000" stroke-width="1.3" fill="none"/>
<path d="M0 0Q1.25 5.885 3.35 10.7L0 8.299999999999999L-3.35 10.7Q-1.25 5.885 0 0Z" fill="#ff0000" transform="translate(328.7 241.8) rotate(0)"/>
<path d="M0 0Q1.25 5.885 3.35 10.7L0 8.299999999999999L-3.35 10.7Q-1.25 5.885 0 0Z" fill="#ff0000" transform="translate(328.7 186.9) rotate(0)"/>
<path d="M343.3 491V304.8M343.3 299.8V194.4" stroke="#ff0000" stroke-width="1.38" fill="none"/>
<path d="M339.1 302.1L347.5 297.5M339.1 307.1L347.5 302.5" stroke="#ff0000" stroke-width="1.3" fill="none"/>
<path d="M0 0Q1.25 5.885 3.35 10.7L0 8.299999999999999L-3.35 10.7Q-1.25 5.885 0 0Z" fill="#ff0000" transform="translate(343.3 241.8) rotate(0)"/>
<path d="M0 0Q1.25 5.885 3.35 10.7L0 8.299999999999999L-3.35 10.7Q-1.25 5.885 0 0Z" fill="#ff0000" transform="translate(343.3 186.9) rotate(0)"/>
<path d="M350.6 493.4V304.8M350.6 299.8V290.6M350.6 271V194.4" stroke="#ff0000" stroke-width="1.38" fill="none"/>
<path d="M346.4 302.1L354.8 297.5M346.4 307.1L354.8 302.5" stroke="#ff0000" stroke-width="1.3" fill="none"/>
<path d="M0 0Q1.25 5.885 3.35 10.7L0 8.299999999999999L-3.35 10.7Q-1.25 5.885 0 0Z" fill="#ff0000" transform="translate(350.6 241.8) rotate(0)"/>
<path d="M0 0Q1.25 5.885 3.35 10.7L0 8.299999999999999L-3.35 10.7Q-1.25 5.885 0 0Z" fill="#ff0000" transform="translate(350.6 186.9) rotate(0)"/>
<path d="M357.9 500.4V304.8M357.9 299.8V194.4" stroke="#ff0000" stroke-width="1.38" fill="none"/>
<path d="M353.7 302.1L362.1 297.5M353.7 307.1L362.1 302.5" stroke="#ff0000" stroke-width="1.3" fill="none"/>
<path d="M0 0Q1.25 5.885 3.35 10.7L0 8.299999999999999L-3.35 10.7Q-1.25 5.885 0 0Z" fill="#ff0000" transform="translate(357.9 241.8) rotate(0)"/>
<path d="M0 0Q1.25 5.885 3.35 10.7L0 8.299999999999999L-3.35 10.7Q-1.25 5.885 0 0Z" fill="#ff0000" transform="translate(357.9 186.9) rotate(0)"/>
<path d="M388.3 376.5V304.8M388.3 299.8V200.9" stroke="#ff0000" stroke-width="1.38" fill="none"/>
<path d="M384.1 302.1L392.5 297.5M384.1 307.1L392.5 302.5" stroke="#ff0000" stroke-width="1.3" fill="none"/>
<path d="M0 0Q1.25 5.885 3.35 10.7L0 8.299999999999999L-3.35 10.7Q-1.25 5.885 0 0Z" fill="#ff0000" transform="translate(388.3 193.4) rotate(0)"/>
<path d="M395.6 378.3V304.8M395.6 299.8V290.6M395.6 271V200.9" stroke="#ff0000" stroke-width="1.38" fill="none"/>
<path d="M391.4 302.1L399.8 297.5M391.4 307.1L399.8 302.5" stroke="#ff0000" stroke-width="1.3" fill="none"/>
<path d="M0 0Q1.25 5.885 3.35 10.7L0 8.299999999999999L-3.35 10.7Q-1.25 5.885 0 0Z" fill="#ff0000" transform="translate(395.6 193.4) rotate(0)"/>
<path d="M402.9 385.3V304.8M402.9 299.8V200.9" stroke="#ff0000" stroke-width="1.38" fill="none"/>
<path d="M398.7 302.1L407.1 297.5M398.7 307.1L407.1 302.5" stroke="#ff0000" stroke-width="1.3" fill="none"/>
<path d="M0 0Q1.25 5.885 3.35 10.7L0 8.299999999999999L-3.35 10.7Q-1.25 5.885 0 0Z" fill="#ff0000" transform="translate(402.9 193.4) rotate(0)"/>
<path d="M417.5 376.5V304.8M417.5 299.8V86.9" stroke="#ff0000" stroke-width="1.38" fill="none"/>
<path d="M413.3 302.1L421.7 297.5M413.3 307.1L421.7 302.5" stroke="#ff0000" stroke-width="1.3" fill="none"/>
<path d="M0 0Q1.25 5.885 3.35 10.7L0 8.299999999999999L-3.35 10.7Q-1.25 5.885 0 0Z" fill="#ff0000" transform="translate(417.5 193.9) rotate(0)"/>
<path d="M0 0Q1.25 5.885 3.35 10.7L0 8.299999999999999L-3.35 10.7Q-1.25 5.885 0 0Z" fill="#ff0000" transform="translate(417.5 79.4) rotate(0)"/>
<path d="M424.8 378.3V304.8M424.8 299.8V290.6M424.8 271V86.9" stroke="#ff0000" stroke-width="1.38" fill="none"/>
<path d="M420.6 302.1L429 297.5M420.6 307.1L429 302.5" stroke="#ff0000" stroke-width="1.3" fill="none"/>
<path d="M0 0Q1.25 5.885 3.35 10.7L0 8.299999999999999L-3.35 10.7Q-1.25 5.885 0 0Z" fill="#ff0000" transform="translate(424.8 193.9) rotate(0)"/>
<path d="M0 0Q1.25 5.885 3.35 10.7L0 8.299999999999999L-3.35 10.7Q-1.25 5.885 0 0Z" fill="#ff0000" transform="translate(424.8 79.4) rotate(0)"/>
<path d="M432.1 385.3V304.8M432.1 299.8V86.9" stroke="#ff0000" stroke-width="1.38" fill="none"/>
<path d="M427.9 302.1L436.3 297.5M427.9 307.1L436.3 302.5" stroke="#ff0000" stroke-width="1.3" fill="none"/>
<path d="M0 0Q1.25 5.885 3.35 10.7L0 8.299999999999999L-3.35 10.7Q-1.25 5.885 0 0Z" fill="#ff0000" transform="translate(432.1 193.9) rotate(0)"/>
<path d="M0 0Q1.25 5.885 3.35 10.7L0 8.299999999999999L-3.35 10.7Q-1.25 5.885 0 0Z" fill="#ff0000" transform="translate(432.1 79.4) rotate(0)"/>
<path d="M446.7 376.5V304.8M446.7 299.8V86.9" stroke="#ff0000" stroke-width="1.38" fill="none"/>
<path d="M442.5 302.1L450.9 297.5M442.5 307.1L450.9 302.5" stroke="#ff0000" stroke-width="1.3" fill="none"/>
<path d="M0 0Q1.25 5.885 3.35 10.7L0 8.299999999999999L-3.35 10.7Q-1.25 5.885 0 0Z" fill="#ff0000" transform="translate(446.7 193.9) rotate(0)"/>
<path d="M0 0Q1.25 5.885 3.35 10.7L0 8.299999999999999L-3.35 10.7Q-1.25 5.885 0 0Z" fill="#ff0000" transform="translate(446.7 79.4) rotate(0)"/>
<path d="M454 378.3V304.8M454 299.8V290.6M454 271V86.9" stroke="#ff0000" stroke-width="1.38" fill="none"/>
<path d="M449.8 302.1L458.2 297.5M449.8 307.1L458.2 302.5" stroke="#ff0000" stroke-width="1.3" fill="none"/>
<path d="M0 0Q1.25 5.885 3.35 10.7L0 8.299999999999999L-3.35 10.7Q-1.25 5.885 0 0Z" fill="#ff0000" transform="translate(454 193.9) rotate(0)"/>
<path d="M0 0Q1.25 5.885 3.35 10.7L0 8.299999999999999L-3.35 10.7Q-1.25 5.885 0 0Z" fill="#ff0000" transform="translate(454 79.4) rotate(0)"/>
<path d="M461.3 385.3V304.8M461.3 299.8V86.9" stroke="#ff0000" stroke-width="1.38" fill="none"/>
<path d="M457.1 302.1L465.5 297.5M457.1 307.1L465.5 302.5" stroke="#ff0000" stroke-width="1.3" fill="none"/>
<path d="M0 0Q1.25 5.885 3.35 10.7L0 8.299999999999999L-3.35 10.7Q-1.25 5.885 0 0Z" fill="#ff0000" transform="translate(461.3 193.9) rotate(0)"/>
<path d="M0 0Q1.25 5.885 3.35 10.7L0 8.299999999999999L-3.35 10.7Q-1.25 5.885 0 0Z" fill="#ff0000" transform="translate(461.3 79.4) rotate(0)"/>
<path d="M123 298.6V24.5H519.7V298.6M123 306.2V598.9H519.7V306.2" stroke="#000" stroke-width="1.4" fill="none" stroke-linejoin="miter"/>
<path d="M123 277.7h8M519.7 277.7h-8M123 235.5h8M519.7 235.5h-8M123 193.3h8M519.7 193.3h-8M123 151.1h8M519.7 151.1h-8M123 108.9h8M519.7 108.9h-8M123 66.7h8M519.7 66.7h-8M123 256.6h4M519.7 256.6h-4M123 214.4h4M519.7 214.4h-4M123 172.2h4M519.7 172.2h-4M123 130h4M519.7 130h-4M123 87.8h4M519.7 87.8h-4M123 45.6h4M519.7 45.6h-4M123 559.3h8M519.7 559.3h-8M123 517.09h8M519.7 517.09h-8M123 474.88h8M519.7 474.88h-8M123 432.67h8M519.7 432.67h-8M123 390.46h8M519.7 390.46h-8M123 348.25h8M519.7 348.25h-8M123 580.4h4M519.7 580.4h-4M123 538.19h4M519.7 538.19h-4M123 495.98h4M519.7 495.98h-4M123 453.77h4M519.7 453.77h-4M123 411.56h4M519.7 411.56h-4M123 369.35h4M519.7 369.35h-4M123 327.14h4M519.7 327.14h-4" stroke="#000" stroke-width="1.35" fill="none"/>
<path d="M113.4 304.4L132.3 293.4M113.4 311.6L132.3 300.6" stroke="#000" stroke-width="1.4" fill="none"/>
<path d="M510.1 304.4L529 293.4M510.1 311.6L529 300.6" stroke="#000" stroke-width="1.4" fill="none"/>
<text x="115" y="285.2" text-anchor="end" font-size="22" font-family="Liberation Serif, serif">34250</text>
<text x="115" y="243" text-anchor="end" font-size="22" font-family="Liberation Serif, serif">34300</text>
<text x="115" y="200.8" text-anchor="end" font-size="22" font-family="Liberation Serif, serif">34350</text>
<text x="115" y="158.6" text-anchor="end" font-size="22" font-family="Liberation Serif, serif">34400</text>
<text x="115" y="116.4" text-anchor="end" font-size="22" font-family="Liberation Serif, serif">34450</text>
<text x="115" y="74.2" text-anchor="end" font-size="22" font-family="Liberation Serif, serif">34500</text>
<text x="115" y="32" text-anchor="end" font-size="22" font-family="Liberation Serif, serif">34550</text>
<text x="115" y="566.8" text-anchor="end" font-size="22" font-family="Liberation Serif, serif">0</text>
<text x="115" y="524.59" text-anchor="end" font-size="22" font-family="Liberation Serif, serif">50</text>
<text x="115" y="482.38" text-anchor="end" font-size="22" font-family="Liberation Serif, serif">100</text>
<text x="115" y="440.17" text-anchor="end" font-size="22" font-family="Liberation Serif, serif">150</text>
<text x="115" y="397.96" text-anchor="end" font-size="22" font-family="Liberation Serif, serif">200</text>
<text x="115" y="355.75" text-anchor="end" font-size="22" font-family="Liberation Serif, serif">250</text>
<text transform="translate(35.5 386) rotate(-90) scale(0.93 1)" font-size="30" font-family="Liberation Serif, serif">term value (cm<tspan dy="-16.8" font-size="19.5">-1</tspan><tspan dy="16.8">)</tspan></text>
<text x="191" y="226.2" font-size="20.6" font-family="Liberation Serif, serif"><tspan font-style="italic">N</tspan><tspan dy="-7.2" font-size="15">+</tspan><tspan dy="7.2"> = 1</tspan></text>
<text x="294.4" y="166.4" font-size="20.6" font-family="Liberation Serif, serif"><tspan font-style="italic">N</tspan><tspan dy="-7.2" font-size="15">+</tspan><tspan dy="7.2"> = 3</tspan></text>
<text x="397.7" y="56.5" font-size="20.6" font-family="Liberation Serif, serif"><tspan font-style="italic">N</tspan><tspan dy="-7.2" font-size="15">+</tspan><tspan dy="7.2"> = 5</tspan></text>
<text x="141.3" y="287.7" font-size="20.5" font-family="Liberation Serif, serif"><tspan font-style="italic">N</tspan> =</text>
<text x="188.6" y="287.7" text-anchor="middle" font-size="21" font-family="Liberation Serif, serif">0</text>
<text x="217.8" y="287.7" text-anchor="middle" font-size="21" font-family="Liberation Serif, serif">1</text>
<text x="247" y="287.7" text-anchor="middle" font-size="21" font-family="Liberation Serif, serif">2</text>
<text x="292.2" y="287.7" text-anchor="middle" font-size="21" font-family="Liberation Serif, serif">2</text>
<text x="321.4" y="287.7" text-anchor="middle" font-size="21" font-family="Liberation Serif, serif">3</text>
<text x="350.6" y="287.7" text-anchor="middle" font-size="21" font-family="Liberation Serif, serif">4</text>
<text x="395.6" y="287.7" text-anchor="middle" font-size="21" font-family="Liberation Serif, serif">4</text>
<text x="424.8" y="287.7" text-anchor="middle" font-size="21" font-family="Liberation Serif, serif">5</text>
<text x="454" y="287.7" text-anchor="middle" font-size="21" font-family="Liberation Serif, serif">6</text>
<text x="188.9" y="585.6" font-size="20.5" font-family="Liberation Serif, serif"><tspan font-style="italic">N&#8221;</tspan> = 1</text>
<text x="292.5" y="521.9" font-size="20.5" font-family="Liberation Serif, serif"><tspan font-style="italic">N&#8221;</tspan> = 3</text>
<text x="395.2" y="406.8" font-size="20.5" font-family="Liberation Serif, serif"><tspan font-style="italic">N&#8221;</tspan> = 5</text>
<path d="M258 548.8L266.6 536.5H271.4" stroke="#000" stroke-width="1.25" fill="none" stroke-linejoin="round"/>
<text x="272.6" y="543" font-size="20" font-family="Liberation Serif, serif">0</text>
<path d="M258 558.4L266.6 553.8H271.4" stroke="#000" stroke-width="1.25" fill="none" stroke-linejoin="round"/>
<text x="272.6" y="559.4" font-size="20" font-family="Liberation Serif, serif">2</text>
<path d="M258 564.1L266.6 576.2H271.4" stroke="#000" stroke-width="1.25" fill="none" stroke-linejoin="round"/>
<text x="272.6" y="582.3" font-size="20" font-family="Liberation Serif, serif">1</text>
<path d="M361.6 491L370.2 478.4H375" stroke="#000" stroke-width="1.25" fill="none" stroke-linejoin="round"/>
<text x="376.2" y="481.9" font-size="20" font-family="Liberation Serif, serif">2</text>
<path d="M361.6 493.4L370.2 490.1H375" stroke="#000" stroke-width="1.25" fill="none" stroke-linejoin="round"/>
<text x="376.2" y="497.4" font-size="20" font-family="Liberation Serif, serif">4</text>
<path d="M361.6 500.4L370.2 512.7H375" stroke="#000" stroke-width="1.25" fill="none" stroke-linejoin="round"/>
<text x="376.2" y="517.5" font-size="20" font-family="Liberation Serif, serif">3</text>
<path d="M465 376.5L473.6 364.8H478.4" stroke="#000" stroke-width="1.25" fill="none" stroke-linejoin="round"/>
<text x="479.6" y="368.6" font-size="20" font-family="Liberation Serif, serif">4</text>
<path d="M465 378.3L473.6 374.8H478.4" stroke="#000" stroke-width="1.25" fill="none" stroke-linejoin="round"/>
<text x="479.6" y="384.1" font-size="20" font-family="Liberation Serif, serif">6</text>
<path d="M465 385.3L473.6 397.7H478.4" stroke="#000" stroke-width="1.25" fill="none" stroke-linejoin="round"/>
<text x="479.6" y="404.3" font-size="20" font-family="Liberation Serif, serif">5</text>
<g transform="translate(145 526.5)"><path d="M0.2 -9.3C0.6 -11.6 1.8 -13.3 3.4 -13.3C4.6 -13.3 5.2 -12.4 5.6 -11L8 -3.6C9.3 -6.5 10.2 -9.5 10.5 -12.2C10.6 -13 11 -13.4 11.6 -13.4C12.3 -13.4 12.6 -12.8 12.5 -12C12 -8.5 9.5 -3.5 7.1 0.3L6.3 0.3L3.2 -9.2C2.8 -10.6 2.4 -11.5 1.8 -11.5C1.3 -11.5 1 -10.6 0.8 -9.3Z" fill="#ff0000"/><path d="M-0.6 -14C0.5 -16.5 2.5 -17.4 4.5 -16.6C6.5 -15.8 8 -14.6 9.5 -14.9C11 -15.2 12 -16.5 12.6 -18.2" stroke="#ff0000" stroke-width="1.6" fill="none" stroke-linecap="round"/></g>
<text x="159.4" y="531.6" font-size="15.2" fill="#ff0000" font-family="Liberation Serif, serif">11</text>
<g transform="translate(258.8 517.7)"><path d="M0.2 -9.3C0.6 -11.6 1.8 -13.3 3.4 -13.3C4.6 -13.3 5.2 -12.4 5.6 -11L8 -3.6C9.3 -6.5 10.2 -9.5 10.5 -12.2C10.6 -13 11 -13.4 11.6 -13.4C12.3 -13.4 12.6 -12.8 12.5 -12C12 -8.5 9.5 -3.5 7.1 0.3L6.3 0.3L3.2 -9.2C2.8 -10.6 2.4 -11.5 1.8 -11.5C1.3 -11.5 1 -10.6 0.8 -9.3Z" fill="#ffa500"/><path d="M-0.6 -14C0.5 -16.5 2.5 -17.4 4.5 -16.6C6.5 -15.8 8 -14.6 9.5 -14.9C11 -15.2 12 -16.5 12.6 -18.2" stroke="#ffa500" stroke-width="1.6" fill="none" stroke-linecap="round"/></g>
<text x="273.2" y="522.5" font-size="15.2" fill="#ffa500" font-family="Liberation Serif, serif">13</text>
<g transform="translate(363 407)"><path d="M0.2 -9.3C0.6 -11.6 1.8 -13.3 3.4 -13.3C4.6 -13.3 5.2 -12.4 5.6 -11L8 -3.6C9.3 -6.5 10.2 -9.5 10.5 -12.2C10.6 -13 11 -13.4 11.6 -13.4C12.3 -13.4 12.6 -12.8 12.5 -12C12 -8.5 9.5 -3.5 7.1 0.3L6.3 0.3L3.2 -9.2C2.8 -10.6 2.4 -11.5 1.8 -11.5C1.3 -11.5 1 -10.6 0.8 -9.3Z" fill="#ffa500"/><path d="M-0.6 -14C0.5 -16.5 2.5 -17.4 4.5 -16.6C6.5 -15.8 8 -14.6 9.5 -14.9C11 -15.2 12 -16.5 12.6 -18.2" stroke="#ffa500" stroke-width="1.6" fill="none" stroke-linecap="round"/></g>
<text x="377.4" y="413.3" font-size="15.2" fill="#ffa500" font-family="Liberation Serif, serif">35</text>
<g transform="translate(365.7 445.3)"><path d="M0.2 -9.3C0.6 -11.6 1.8 -13.3 3.4 -13.3C4.6 -13.3 5.2 -12.4 5.6 -11L8 -3.6C9.3 -6.5 10.2 -9.5 10.5 -12.2C10.6 -13 11 -13.4 11.6 -13.4C12.3 -13.4 12.6 -12.8 12.5 -12C12 -8.5 9.5 -3.5 7.1 0.3L6.3 0.3L3.2 -9.2C2.8 -10.6 2.4 -11.5 1.8 -11.5C1.3 -11.5 1 -10.6 0.8 -9.3Z" fill="#ff0000"/><path d="M-0.6 -14C0.5 -16.5 2.5 -17.4 4.5 -16.6C6.5 -15.8 8 -14.6 9.5 -14.9C11 -15.2 12 -16.5 12.6 -18.2" stroke="#ff0000" stroke-width="1.6" fill="none" stroke-linecap="round"/></g>
<text x="380.1" y="451.5" font-size="15.2" fill="#ff0000" font-family="Liberation Serif, serif">33</text>
<g transform="translate(471.8 333)"><path d="M0.2 -9.3C0.6 -11.6 1.8 -13.3 3.4 -13.3C4.6 -13.3 5.2 -12.4 5.6 -11L8 -3.6C9.3 -6.5 10.2 -9.5 10.5 -12.2C10.6 -13 11 -13.4 11.6 -13.4C12.3 -13.4 12.6 -12.8 12.5 -12C12 -8.5 9.5 -3.5 7.1 0.3L6.3 0.3L3.2 -9.2C2.8 -10.6 2.4 -11.5 1.8 -11.5C1.3 -11.5 1 -10.6 0.8 -9.3Z" fill="#ff0000"/><path d="M-0.6 -14C0.5 -16.5 2.5 -17.4 4.5 -16.6C6.5 -15.8 8 -14.6 9.5 -14.9C11 -15.2 12 -16.5 12.6 -18.2" stroke="#ff0000" stroke-width="1.6" fill="none" stroke-linecap="round"/></g>
<text x="486.2" y="337.6" font-size="15.2" fill="#ff0000" font-family="Liberation Serif, serif">55</text>
</g>
</svg>
</body></html>
